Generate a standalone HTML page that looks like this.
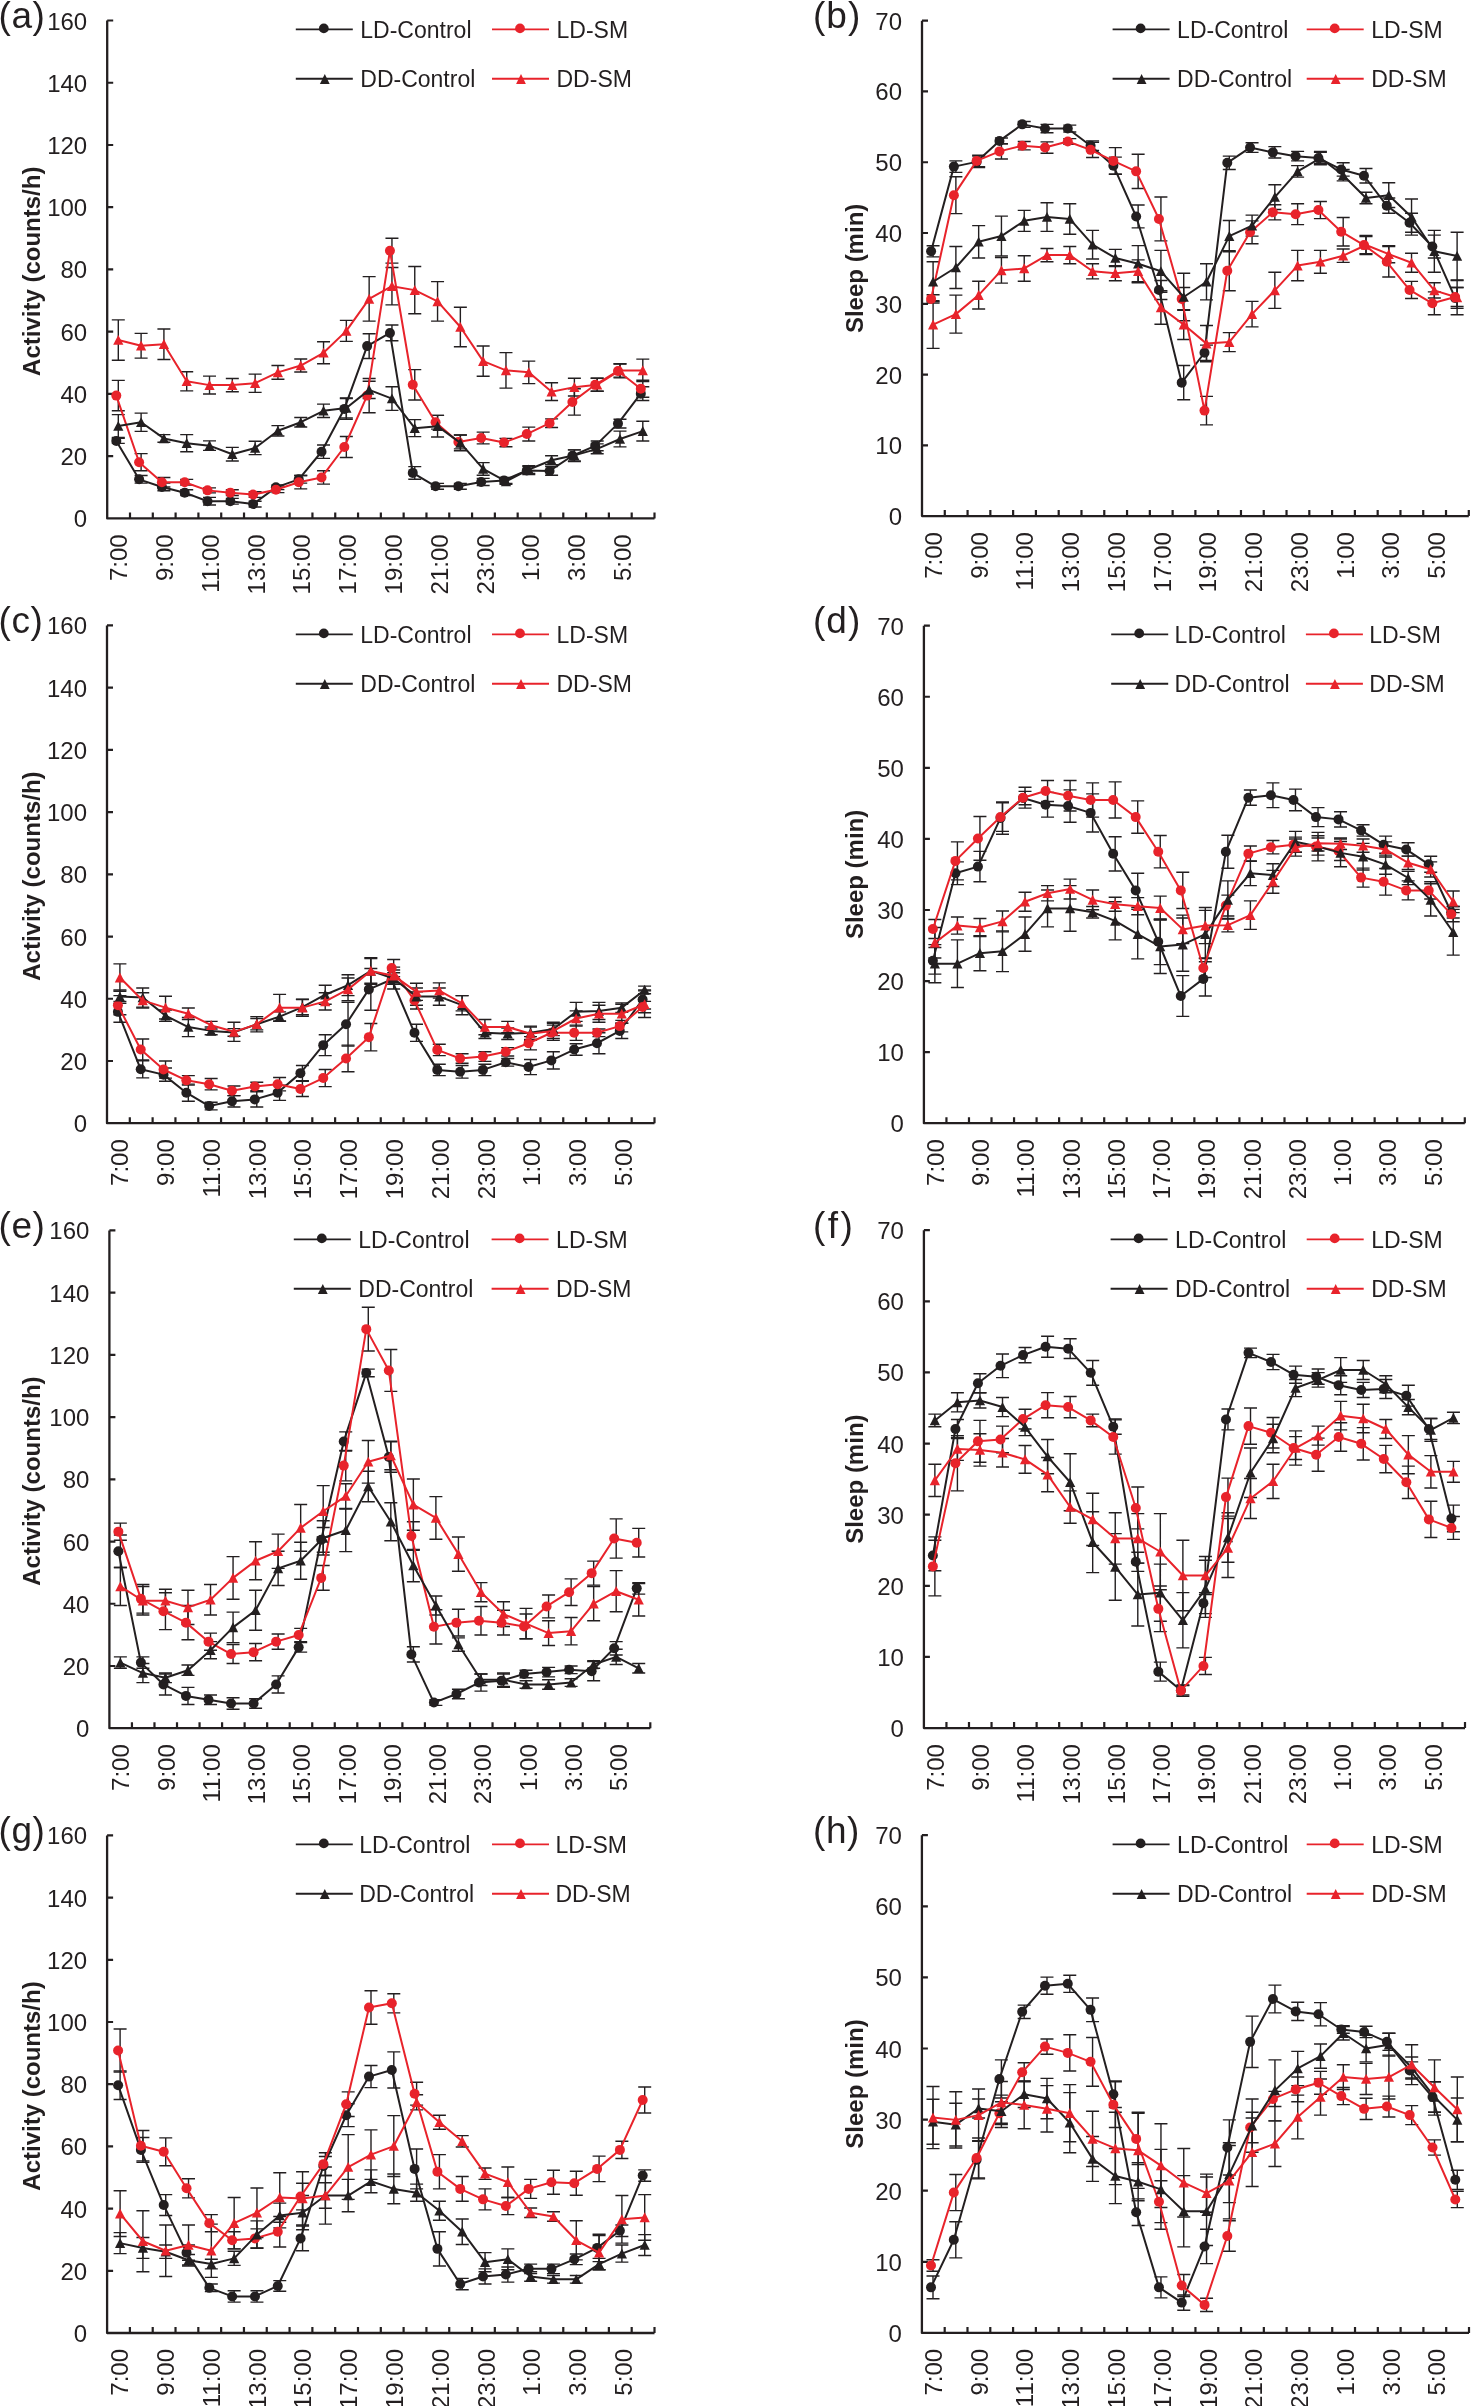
<!DOCTYPE html>
<html><head><meta charset="utf-8"><style>
html,body{margin:0;padding:0;background:#fff;overflow:hidden;}
svg{display:block;will-change:transform;}
text{font-family:"Liberation Sans", sans-serif;fill:#231f20;}
.t{font-size:24px;}
.lg{font-size:23px;}
.pl{font-size:37px;}
.yt{font-size:24px;font-weight:bold;}
.yt2{font-size:24px;font-weight:bold;}
</style></head><body>
<svg width="1471" height="2406" viewBox="0 0 1471 2406">
<rect width="1471" height="2406" fill="#fff"/>
<g id="pa">
<text x="-1.5" y="27.8" class="pl" letter-spacing="0.6">(a)</text>
<text transform="translate(39.5 271.25) rotate(-90)" text-anchor="middle" class="yt">Activity (counts/h)</text>
<path d="M107.2 20.5V518.4H654.5" fill="none" stroke="#231f20" stroke-width="2.3" stroke-linejoin="round"/>
<path d="M107.2 456.16h6M107.2 393.92h6M107.2 331.69h6M107.2 269.45h6M107.2 207.21h6M107.2 144.98h6M107.2 82.74h6M107.2 20.5h6M130 518.4v-6M152.81 518.4v-6M175.61 518.4v-6M198.42 518.4v-6M221.22 518.4v-6M244.02 518.4v-6M266.83 518.4v-6M289.63 518.4v-6M312.44 518.4v-6M335.24 518.4v-6M358.05 518.4v-6M380.85 518.4v-6M403.65 518.4v-6M426.46 518.4v-6M449.26 518.4v-6M472.07 518.4v-6M494.87 518.4v-6M517.67 518.4v-6M540.48 518.4v-6M563.28 518.4v-6M586.09 518.4v-6M608.89 518.4v-6M631.7 518.4v-6M654.5 518.4v-6" stroke="#231f20" stroke-width="2.2" fill="none"/>
<text x="87.2" y="527.4" text-anchor="end" class="t">0</text>
<text x="87.2" y="465.16" text-anchor="end" class="t">20</text>
<text x="87.2" y="402.92" text-anchor="end" class="t">40</text>
<text x="87.2" y="340.69" text-anchor="end" class="t">60</text>
<text x="87.2" y="278.45" text-anchor="end" class="t">80</text>
<text x="87.2" y="216.21" text-anchor="end" class="t">100</text>
<text x="87.2" y="153.98" text-anchor="end" class="t">120</text>
<text x="87.2" y="91.74" text-anchor="end" class="t">140</text>
<text x="87.2" y="29.5" text-anchor="end" class="t">160</text>
<text transform="translate(127.2 534.4) rotate(-90)" text-anchor="end" class="t">7:00</text>
<text transform="translate(172.99 534.4) rotate(-90)" text-anchor="end" class="t">9:00</text>
<text transform="translate(218.78 534.4) rotate(-90)" text-anchor="end" class="t">11:00</text>
<text transform="translate(264.57 534.4) rotate(-90)" text-anchor="end" class="t">13:00</text>
<text transform="translate(310.36 534.4) rotate(-90)" text-anchor="end" class="t">15:00</text>
<text transform="translate(356.14 534.4) rotate(-90)" text-anchor="end" class="t">17:00</text>
<text transform="translate(401.93 534.4) rotate(-90)" text-anchor="end" class="t">19:00</text>
<text transform="translate(447.72 534.4) rotate(-90)" text-anchor="end" class="t">21:00</text>
<text transform="translate(493.51 534.4) rotate(-90)" text-anchor="end" class="t">23:00</text>
<text transform="translate(539.3 534.4) rotate(-90)" text-anchor="end" class="t">1:00</text>
<text transform="translate(585.09 534.4) rotate(-90)" text-anchor="end" class="t">3:00</text>
<text transform="translate(630.87 534.4) rotate(-90)" text-anchor="end" class="t">5:00</text>
<path d="M118.3 438.41V443.36M111.8 438.41h13M111.8 443.36h13M141.11 475.53V483.14M134.61 475.53h13M134.61 483.14h13M163.91 483.14V490.75M157.41 483.14h13M157.41 490.75h13M186.71 489.8V495.51M180.21 489.8h13M180.21 495.51h13M209.52 497.42V505.03M203.02 497.42h13M203.02 505.03h13M232.32 498.37V504.08M225.82 498.37h13M225.82 504.08h13M255.13 501.22V506.93M248.63 501.22h13M248.63 506.93h13M277.93 485.04V489.61M271.43 485.04h13M271.43 489.61h13M300.74 475.53V483.14M294.24 475.53h13M294.24 483.14h13M323.54 445.07V458.4M317.04 445.07h13M317.04 458.4h13M346.34 398.44V419.38M339.84 398.44h13M339.84 419.38h13M369.15 333.73V358.47M362.65 333.73h13M362.65 358.47h13M391.95 325.03V340.8M385.45 325.03h13M385.45 340.8h13M414.76 466.59V479.21M408.26 466.59h13M408.26 479.21h13M437.56 483.35V489.27M431.06 483.35h13M431.06 489.27h13M460.36 483.35V489.27M453.86 483.35h13M453.86 489.27h13M483.17 478.42V485.52M476.67 478.42h13M476.67 485.52h13M505.97 477.44V483.35M499.47 477.44h13M499.47 483.35h13M528.78 466.59V474.48M522.28 466.59h13M522.28 474.48h13M551.58 466.59V475.27M545.08 466.59h13M545.08 475.27h13M574.39 449.83V461.66M567.89 449.83h13M567.89 461.66h13M597.19 440.96V450.82M590.69 440.96h13M590.69 450.82h13M619.99 419.27V427.95M613.49 419.27h13M613.49 427.95h13M642.8 386.74V400.54M636.3 386.74h13M636.3 400.54h13" stroke="#231f20" stroke-width="1.4" fill="none"/>
<path d="M118.3 380.36V410.81M111.8 380.36h13M111.8 410.81h13M141.11 453.64V470.77M134.61 453.64h13M134.61 470.77h13M163.91 477.43V486.95M157.41 477.43h13M157.41 486.95h13M186.71 479.33V485.04M180.21 479.33h13M180.21 485.04h13M209.52 487.9V492.85M203.02 487.9h13M203.02 492.85h13M232.32 489.8V495.51M225.82 489.8h13M225.82 495.51h13M255.13 491.71V497.42M248.63 491.71h13M248.63 497.42h13M277.93 486.95V492.66M271.43 486.95h13M271.43 492.66h13M300.74 475.53V488.85M294.24 475.53h13M294.24 488.85h13M323.54 470.77V484.09M317.04 470.77h13M317.04 484.09h13M346.34 436.51V457.45M339.84 436.51h13M339.84 457.45h13M369.15 378.46V412.72M362.65 378.46h13M362.65 412.72h13M391.95 238.28V263.12M385.45 238.28h13M385.45 263.12h13M414.76 369.59V399.95M408.26 369.59h13M408.26 399.95h13M437.56 415.33V429.13M431.06 415.33h13M431.06 429.13h13M460.36 435.05V448.85M453.86 435.05h13M453.86 448.85h13M483.17 432.09V443.92M476.67 432.09h13M476.67 443.92h13M505.97 438.4V446.68M499.47 438.4h13M499.47 446.68h13M528.78 427.16V440.96M522.28 427.16h13M522.28 440.96h13M551.58 418.88V427.56M545.08 418.88h13M545.08 427.56h13M574.39 388.71V415.13M567.89 388.71h13M567.89 415.13h13M597.19 378.26V391.28M590.69 378.26h13M590.69 391.28h13M619.99 364.07V377.87M613.49 364.07h13M613.49 377.87h13M642.8 380.24V397.19M636.3 380.24h13M636.3 397.19h13" stroke="#231f20" stroke-width="1.4" fill="none"/>
<path d="M118.3 414.62V437.46M111.8 414.62h13M111.8 437.46h13M141.11 413.1V431.37M134.61 413.1h13M134.61 431.37h13M163.91 434.61V442.22M157.41 434.61h13M157.41 442.22h13M186.71 434.61V451.74M180.21 434.61h13M180.21 451.74h13M209.52 440.89V450.4M203.02 440.89h13M203.02 450.4h13M232.32 447.36V461.06M225.82 447.36h13M225.82 461.06h13M255.13 441.27V454.59M248.63 441.27h13M248.63 454.59h13M277.93 425.66V435.94M271.43 425.66h13M271.43 435.94h13M300.74 417.48V426.99M294.24 417.48h13M294.24 426.99h13M323.54 404.15V417.48M317.04 404.15h13M317.04 417.48h13M346.34 397.87V418.05M339.84 397.87h13M339.84 418.05h13M369.15 381.31V398.44M362.65 381.31h13M362.65 398.44h13M391.95 386.74V410.4M385.45 386.74h13M385.45 410.4h13M414.76 419.67V436.62M408.26 419.67h13M408.26 436.62h13M437.56 415.33V437.02M431.06 415.33h13M431.06 437.02h13M460.36 435.05V450.82M453.86 435.05h13M453.86 450.82h13M483.17 462.65V475.27M476.67 462.65h13M476.67 475.27h13M505.97 478.42V484.34M499.47 478.42h13M499.47 484.34h13M528.78 465.61V473.49M522.28 465.61h13M522.28 473.49h13M551.58 455.75V464.82M545.08 455.75h13M545.08 464.82h13M574.39 449.83V460.88M567.89 449.83h13M567.89 460.88h13M597.19 443.92V453.78M590.69 443.92h13M590.69 453.78h13M619.99 431.1V446.88M613.49 431.1h13M613.49 446.88h13M642.8 421.25V440.96M636.3 421.25h13M636.3 440.96h13" stroke="#231f20" stroke-width="1.4" fill="none"/>
<path d="M118.3 319.84V360.19M111.8 319.84h13M111.8 360.19h13M141.11 333.35V358.09M134.61 333.35h13M134.61 358.09h13M163.91 328.97V359.43M157.41 328.97h13M157.41 359.43h13M186.71 371.8V390.83M180.21 371.8h13M180.21 390.83h13M209.52 376.17V394.07M203.02 376.17h13M203.02 394.07h13M232.32 378.46V391.78M225.82 378.46h13M225.82 391.78h13M255.13 374.08V392.35M248.63 374.08h13M248.63 392.35h13M277.93 365.52V379.22M271.43 365.52h13M271.43 379.22h13M300.74 359.04V371.99M294.24 359.04h13M294.24 371.99h13M323.54 341.72V363.8M317.04 341.72h13M317.04 363.8h13M346.34 320.41V341.34M339.84 320.41h13M339.84 341.34h13M369.15 276.63V321.17M362.65 276.63h13M362.65 321.17h13M391.95 267.46V304.92M385.45 267.46h13M385.45 304.92h13M414.76 266.47V313.79M408.26 266.47h13M408.26 313.79h13M437.56 281.66V321.09M431.06 281.66h13M431.06 321.09h13M460.36 307.29V346.72M453.86 307.29h13M453.86 346.72h13M483.17 345.93V376.29M476.67 345.93h13M476.67 376.29h13M505.97 352.63V388.12M499.47 352.63h13M499.47 388.12h13M528.78 361.11V383.59M522.28 361.11h13M522.28 383.59h13M551.58 382.8V400.54M545.08 382.8h13M545.08 400.54h13M574.39 378.26V396.01M567.89 378.26h13M567.89 396.01h13M597.19 378.26V391.28M590.69 378.26h13M590.69 391.28h13M619.99 363.68V377.08M613.49 363.68h13M613.49 377.08h13M642.8 359.14V381.62M636.3 359.14h13M636.3 381.62h13" stroke="#231f20" stroke-width="1.4" fill="none"/>
<path d="M116.3 440.89L139.11 479.33L161.91 486.95L184.71 492.66L207.52 501.22L230.32 501.22L253.13 504.08L275.93 487.33L298.74 479.33L321.54 451.74L344.34 408.91L367.15 346.1L389.95 332.92L412.76 472.9L435.56 486.31L458.36 486.31L481.17 481.97L503.97 480.39L526.78 470.54L549.58 470.93L572.39 455.75L595.19 445.89L617.99 423.61L640.8 393.64" stroke="#231f20" stroke-width="2.0" fill="none" stroke-linejoin="round"/>
<circle cx="116.3" cy="440.89" r="5" fill="#231f20"/>
<circle cx="139.11" cy="479.33" r="5" fill="#231f20"/>
<circle cx="161.91" cy="486.95" r="5" fill="#231f20"/>
<circle cx="184.71" cy="492.66" r="5" fill="#231f20"/>
<circle cx="207.52" cy="501.22" r="5" fill="#231f20"/>
<circle cx="230.32" cy="501.22" r="5" fill="#231f20"/>
<circle cx="253.13" cy="504.08" r="5" fill="#231f20"/>
<circle cx="275.93" cy="487.33" r="5" fill="#231f20"/>
<circle cx="298.74" cy="479.33" r="5" fill="#231f20"/>
<circle cx="321.54" cy="451.74" r="5" fill="#231f20"/>
<circle cx="344.34" cy="408.91" r="5" fill="#231f20"/>
<circle cx="367.15" cy="346.1" r="5" fill="#231f20"/>
<circle cx="389.95" cy="332.92" r="5" fill="#231f20"/>
<circle cx="412.76" cy="472.9" r="5" fill="#231f20"/>
<circle cx="435.56" cy="486.31" r="5" fill="#231f20"/>
<circle cx="458.36" cy="486.31" r="5" fill="#231f20"/>
<circle cx="481.17" cy="481.97" r="5" fill="#231f20"/>
<circle cx="503.97" cy="480.39" r="5" fill="#231f20"/>
<circle cx="526.78" cy="470.54" r="5" fill="#231f20"/>
<circle cx="549.58" cy="470.93" r="5" fill="#231f20"/>
<circle cx="572.39" cy="455.75" r="5" fill="#231f20"/>
<circle cx="595.19" cy="445.89" r="5" fill="#231f20"/>
<circle cx="617.99" cy="423.61" r="5" fill="#231f20"/>
<circle cx="640.8" cy="393.64" r="5" fill="#231f20"/>
<path d="M116.3 395.59L139.11 462.2L161.91 482.19L184.71 482.19L207.52 490.37L230.32 492.66L253.13 494.56L275.93 489.8L298.74 482.19L321.54 477.43L344.34 446.98L367.15 395.59L389.95 250.7L412.76 384.77L435.56 422.23L458.36 441.95L481.17 438L503.97 442.54L526.78 434.06L549.58 423.22L572.39 401.92L595.19 384.77L617.99 370.97L640.8 388.71" stroke="#e8232b" stroke-width="2.0" fill="none" stroke-linejoin="round"/>
<circle cx="116.3" cy="395.59" r="5" fill="#e8232b"/>
<circle cx="139.11" cy="462.2" r="5" fill="#e8232b"/>
<circle cx="161.91" cy="482.19" r="5" fill="#e8232b"/>
<circle cx="184.71" cy="482.19" r="5" fill="#e8232b"/>
<circle cx="207.52" cy="490.37" r="5" fill="#e8232b"/>
<circle cx="230.32" cy="492.66" r="5" fill="#e8232b"/>
<circle cx="253.13" cy="494.56" r="5" fill="#e8232b"/>
<circle cx="275.93" cy="489.8" r="5" fill="#e8232b"/>
<circle cx="298.74" cy="482.19" r="5" fill="#e8232b"/>
<circle cx="321.54" cy="477.43" r="5" fill="#e8232b"/>
<circle cx="344.34" cy="446.98" r="5" fill="#e8232b"/>
<circle cx="367.15" cy="395.59" r="5" fill="#e8232b"/>
<circle cx="389.95" cy="250.7" r="5" fill="#e8232b"/>
<circle cx="412.76" cy="384.77" r="5" fill="#e8232b"/>
<circle cx="435.56" cy="422.23" r="5" fill="#e8232b"/>
<circle cx="458.36" cy="441.95" r="5" fill="#e8232b"/>
<circle cx="481.17" cy="438" r="5" fill="#e8232b"/>
<circle cx="503.97" cy="442.54" r="5" fill="#e8232b"/>
<circle cx="526.78" cy="434.06" r="5" fill="#e8232b"/>
<circle cx="549.58" cy="423.22" r="5" fill="#e8232b"/>
<circle cx="572.39" cy="401.92" r="5" fill="#e8232b"/>
<circle cx="595.19" cy="384.77" r="5" fill="#e8232b"/>
<circle cx="617.99" cy="370.97" r="5" fill="#e8232b"/>
<circle cx="640.8" cy="388.71" r="5" fill="#e8232b"/>
<path d="M118.3 426.04L141.11 422.23L163.91 438.41L186.71 443.17L209.52 445.65L232.32 454.21L255.13 447.93L277.93 430.8L300.74 422.23L323.54 410.81L346.34 407.96L369.15 389.88L391.95 398.57L414.76 428.15L437.56 426.18L460.36 442.93L483.17 468.96L505.97 481.38L528.78 469.55L551.58 460.28L574.39 455.35L597.19 448.85L619.99 438.99L642.8 431.1" stroke="#231f20" stroke-width="2.0" fill="none" stroke-linejoin="round"/>
<path d="M118.3 420.94L123.4 430.84H113.2Z" fill="#231f20"/>
<path d="M141.11 417.13L146.21 427.03H136.01Z" fill="#231f20"/>
<path d="M163.91 433.31L169.01 443.21H158.81Z" fill="#231f20"/>
<path d="M186.71 438.07L191.81 447.97H181.61Z" fill="#231f20"/>
<path d="M209.52 440.55L214.62 450.45H204.42Z" fill="#231f20"/>
<path d="M232.32 449.11L237.42 459.01H227.22Z" fill="#231f20"/>
<path d="M255.13 442.83L260.23 452.73H250.03Z" fill="#231f20"/>
<path d="M277.93 425.7L283.03 435.6H272.83Z" fill="#231f20"/>
<path d="M300.74 417.13L305.84 427.03H295.64Z" fill="#231f20"/>
<path d="M323.54 405.71L328.64 415.61H318.44Z" fill="#231f20"/>
<path d="M346.34 402.86L351.44 412.76H341.24Z" fill="#231f20"/>
<path d="M369.15 384.78L374.25 394.68H364.05Z" fill="#231f20"/>
<path d="M391.95 393.47L397.05 403.37H386.85Z" fill="#231f20"/>
<path d="M414.76 423.05L419.86 432.95H409.66Z" fill="#231f20"/>
<path d="M437.56 421.08L442.66 430.98H432.46Z" fill="#231f20"/>
<path d="M460.36 437.83L465.46 447.73H455.26Z" fill="#231f20"/>
<path d="M483.17 463.86L488.27 473.76H478.07Z" fill="#231f20"/>
<path d="M505.97 476.28L511.07 486.18H500.87Z" fill="#231f20"/>
<path d="M528.78 464.45L533.88 474.35H523.68Z" fill="#231f20"/>
<path d="M551.58 455.18L556.68 465.08H546.48Z" fill="#231f20"/>
<path d="M574.39 450.25L579.49 460.15H569.29Z" fill="#231f20"/>
<path d="M597.19 443.75L602.29 453.65H592.09Z" fill="#231f20"/>
<path d="M619.99 433.89L625.09 443.79H614.89Z" fill="#231f20"/>
<path d="M642.8 426L647.9 435.9H637.7Z" fill="#231f20"/>
<path d="M118.3 340.01L141.11 345.72L163.91 344.2L186.71 381.31L209.52 385.12L232.32 385.12L255.13 383.22L277.93 372.37L300.74 365.52L323.54 352.76L346.34 330.88L369.15 298.9L391.95 286.19L414.76 290.13L437.56 301.37L460.36 327L483.17 361.11L505.97 370.38L528.78 372.35L551.58 391.67L574.39 387.14L597.19 384.77L619.99 370.38L642.8 370.38" stroke="#e8232b" stroke-width="2.0" fill="none" stroke-linejoin="round"/>
<path d="M118.3 334.91L123.4 344.81H113.2Z" fill="#e8232b"/>
<path d="M141.11 340.62L146.21 350.52H136.01Z" fill="#e8232b"/>
<path d="M163.91 339.1L169.01 349H158.81Z" fill="#e8232b"/>
<path d="M186.71 376.21L191.81 386.11H181.61Z" fill="#e8232b"/>
<path d="M209.52 380.02L214.62 389.92H204.42Z" fill="#e8232b"/>
<path d="M232.32 380.02L237.42 389.92H227.22Z" fill="#e8232b"/>
<path d="M255.13 378.12L260.23 388.02H250.03Z" fill="#e8232b"/>
<path d="M277.93 367.27L283.03 377.17H272.83Z" fill="#e8232b"/>
<path d="M300.74 360.42L305.84 370.32H295.64Z" fill="#e8232b"/>
<path d="M323.54 347.66L328.64 357.56H318.44Z" fill="#e8232b"/>
<path d="M346.34 325.78L351.44 335.68H341.24Z" fill="#e8232b"/>
<path d="M369.15 293.8L374.25 303.7H364.05Z" fill="#e8232b"/>
<path d="M391.95 281.09L397.05 290.99H386.85Z" fill="#e8232b"/>
<path d="M414.76 285.03L419.86 294.93H409.66Z" fill="#e8232b"/>
<path d="M437.56 296.27L442.66 306.17H432.46Z" fill="#e8232b"/>
<path d="M460.36 321.9L465.46 331.8H455.26Z" fill="#e8232b"/>
<path d="M483.17 356.01L488.27 365.91H478.07Z" fill="#e8232b"/>
<path d="M505.97 365.28L511.07 375.18H500.87Z" fill="#e8232b"/>
<path d="M528.78 367.25L533.88 377.15H523.68Z" fill="#e8232b"/>
<path d="M551.58 386.57L556.68 396.47H546.48Z" fill="#e8232b"/>
<path d="M574.39 382.04L579.49 391.94H569.29Z" fill="#e8232b"/>
<path d="M597.19 379.67L602.29 389.57H592.09Z" fill="#e8232b"/>
<path d="M619.99 365.28L625.09 375.18H614.89Z" fill="#e8232b"/>
<path d="M642.8 365.28L647.9 375.18H637.7Z" fill="#e8232b"/>
<path d="M295.8 29.4h57" stroke="#231f20" stroke-width="1.9"/>
<circle cx="323.8" cy="28.4" r="4.9" fill="#231f20"/>
<text x="360.3" y="37.6" class="lg">LD-Control</text>
<path d="M295.8 78.7h57" stroke="#231f20" stroke-width="1.9"/>
<path d="M324.8 74.1L329.7 83.9H319.9Z" fill="#231f20"/>
<text x="360.3" y="86.9" class="lg">DD-Control</text>
<path d="M492 29.4h57" stroke="#e8232b" stroke-width="1.9"/>
<circle cx="520" cy="28.4" r="4.9" fill="#e8232b"/>
<text x="556.5" y="37.6" class="lg">LD-SM</text>
<path d="M492 78.7h57" stroke="#e8232b" stroke-width="1.9"/>
<path d="M521 74.1L525.9 83.9H516.1Z" fill="#e8232b"/>
<text x="556.5" y="86.9" class="lg">DD-SM</text>
</g>
<g id="pb">
<text x="813" y="28" class="pl" letter-spacing="1.0">(b)</text>
<text transform="translate(862.8 268.4) rotate(-90)" text-anchor="middle" class="yt2">Sleep (min)</text>
<path d="M922 20.7V516.1H1468.8" fill="none" stroke="#231f20" stroke-width="2.3" stroke-linejoin="round"/>
<path d="M922 445.33h6M922 374.56h6M922 303.79h6M922 233.01h6M922 162.24h6M922 91.47h6M922 20.7h6M944.78 516.1v-6M967.57 516.1v-6M990.35 516.1v-6M1013.13 516.1v-6M1035.92 516.1v-6M1058.7 516.1v-6M1081.48 516.1v-6M1104.27 516.1v-6M1127.05 516.1v-6M1149.83 516.1v-6M1172.62 516.1v-6M1195.4 516.1v-6M1218.18 516.1v-6M1240.97 516.1v-6M1263.75 516.1v-6M1286.53 516.1v-6M1309.32 516.1v-6M1332.1 516.1v-6M1354.88 516.1v-6M1377.67 516.1v-6M1400.45 516.1v-6M1423.23 516.1v-6M1446.02 516.1v-6M1468.8 516.1v-6" stroke="#231f20" stroke-width="2.2" fill="none"/>
<text x="902" y="525.1" text-anchor="end" class="t">0</text>
<text x="902" y="454.33" text-anchor="end" class="t">10</text>
<text x="902" y="383.56" text-anchor="end" class="t">20</text>
<text x="902" y="312.79" text-anchor="end" class="t">30</text>
<text x="902" y="242.01" text-anchor="end" class="t">40</text>
<text x="902" y="171.24" text-anchor="end" class="t">50</text>
<text x="902" y="100.47" text-anchor="end" class="t">60</text>
<text x="902" y="29.7" text-anchor="end" class="t">70</text>
<text transform="translate(941.99 532.1) rotate(-90)" text-anchor="end" class="t">7:00</text>
<text transform="translate(987.74 532.1) rotate(-90)" text-anchor="end" class="t">9:00</text>
<text transform="translate(1033.48 532.1) rotate(-90)" text-anchor="end" class="t">11:00</text>
<text transform="translate(1079.23 532.1) rotate(-90)" text-anchor="end" class="t">13:00</text>
<text transform="translate(1124.98 532.1) rotate(-90)" text-anchor="end" class="t">15:00</text>
<text transform="translate(1170.72 532.1) rotate(-90)" text-anchor="end" class="t">17:00</text>
<text transform="translate(1216.47 532.1) rotate(-90)" text-anchor="end" class="t">19:00</text>
<text transform="translate(1262.22 532.1) rotate(-90)" text-anchor="end" class="t">21:00</text>
<text transform="translate(1307.96 532.1) rotate(-90)" text-anchor="end" class="t">23:00</text>
<text transform="translate(1353.71 532.1) rotate(-90)" text-anchor="end" class="t">1:00</text>
<text transform="translate(1399.46 532.1) rotate(-90)" text-anchor="end" class="t">3:00</text>
<text transform="translate(1445.2 532.1) rotate(-90)" text-anchor="end" class="t">5:00</text>
<path d="M933.09 245.79V256.83M926.59 245.79h13M926.59 256.83h13M955.88 160.91V172.33M949.38 160.91h13M949.38 172.33h13M978.66 156.15V167.57M972.16 156.15h13M972.16 167.57h13M1001.44 138.07V143.78M994.94 138.07h13M994.94 143.78h13M1024.23 121.51V127.22M1017.73 121.51h13M1017.73 127.22h13M1047.01 124.36V132.74M1040.51 124.36h13M1040.51 132.74h13M1069.79 125.12V131.98M1063.29 125.12h13M1063.29 131.98h13M1092.58 140.92V150.44M1086.08 140.92h13M1086.08 150.44h13M1115.36 157.1V174.23M1108.86 157.1h13M1108.86 174.23h13M1138.14 205.06V227.9M1131.64 205.06h13M1131.64 227.9h13M1160.92 280.43V299.47M1154.42 280.43h13M1154.42 299.47h13M1183.71 365.51V399.77M1177.21 365.51h13M1177.21 399.77h13M1206.49 345.15V360.37M1199.99 345.15h13M1199.99 360.37h13M1229.28 156.15V169.47M1222.78 156.15h13M1222.78 169.47h13M1252.06 142.82V152.34M1245.56 142.82h13M1245.56 152.34h13M1274.84 146.63V158.05M1268.34 146.63h13M1268.34 158.05h13M1297.62 151.39V160.91M1291.12 151.39h13M1291.12 160.91h13M1320.41 151.39V164.71M1313.91 151.39h13M1313.91 164.71h13M1343.19 162.81V176.13M1336.69 162.81h13M1336.69 176.13h13M1365.98 168.52V182.98M1359.48 168.52h13M1359.48 182.98h13M1388.76 198.02V213.25M1382.26 198.02h13M1382.26 213.25h13M1411.54 213.25V232.28M1405.04 213.25h13M1405.04 232.28h13M1434.33 235.14V257.97M1427.83 235.14h13M1427.83 257.97h13M1457.11 287.48V308.41M1450.61 287.48h13M1450.61 308.41h13" stroke="#231f20" stroke-width="1.4" fill="none"/>
<path d="M933.09 294.71V303.08M926.59 294.71h13M926.59 303.08h13M955.88 176.7V213.63M949.38 176.7h13M949.38 213.63h13M978.66 155.2V166.62M972.16 155.2h13M972.16 166.62h13M1001.44 143.78V159M994.94 143.78h13M994.94 159h13M1024.23 141.49V149.87M1017.73 141.49h13M1017.73 149.87h13M1047.01 141.87V153.29M1040.51 141.87h13M1040.51 153.29h13M1069.79 138.64V144.35M1063.29 138.64h13M1063.29 144.35h13M1092.58 142.25V157.48M1086.08 142.25h13M1086.08 157.48h13M1115.36 147.58V174.23M1108.86 147.58h13M1108.86 174.23h13M1138.14 154.24V188.5M1131.64 154.24h13M1131.64 188.5h13M1160.92 197.07V240.85M1154.42 197.07h13M1154.42 240.85h13M1183.71 287.48V310.32M1177.21 287.48h13M1177.21 310.32h13M1206.49 396.35V424.9M1199.99 396.35h13M1199.99 424.9h13M1229.28 250.74V290.71M1222.78 250.74h13M1222.78 290.71h13M1252.06 220.86V243.7M1245.56 220.86h13M1245.56 243.7h13M1274.84 204.68V219.91M1268.34 204.68h13M1268.34 219.91h13M1297.62 203.73V224.67M1291.12 203.73h13M1291.12 224.67h13M1320.41 201.45V218.58M1313.91 201.45h13M1313.91 218.58h13M1343.19 217.43V245.98M1336.69 217.43h13M1336.69 245.98h13M1365.98 235.52V254.55M1359.48 235.52h13M1359.48 254.55h13M1388.76 246.56V277.01M1382.26 246.56h13M1382.26 277.01h13M1411.54 281.39V298.52M1405.04 281.39h13M1405.04 298.52h13M1434.33 291.85V314.69M1427.83 291.85h13M1427.83 314.69h13M1457.11 287.48V306.51M1450.61 287.48h13M1450.61 306.51h13" stroke="#231f20" stroke-width="1.4" fill="none"/>
<path d="M933.09 261.78V301.75M926.59 261.78h13M926.59 301.75h13M955.88 246.56V288.43M949.38 246.56h13M949.38 288.43h13M978.66 225.62V257.97M972.16 225.62h13M972.16 257.97h13M1001.44 216.1V256.07M994.94 216.1h13M994.94 256.07h13M1024.23 210.39V231.33M1017.73 210.39h13M1017.73 231.33h13M1047.01 202.78V231.33M1040.51 202.78h13M1040.51 231.33h13M1069.79 203.73V234.18M1063.29 203.73h13M1063.29 234.18h13M1092.58 230.38V258.93M1086.08 230.38h13M1086.08 258.93h13M1115.36 249.41V266.54M1108.86 249.41h13M1108.86 266.54h13M1138.14 245.6V281.77M1131.64 245.6h13M1131.64 281.77h13M1160.92 250.36V292.23M1154.42 250.36h13M1154.42 292.23h13M1183.71 273.2V320.78M1177.21 273.2h13M1177.21 320.78h13M1206.49 263.68V299.85M1199.99 263.68h13M1199.99 299.85h13M1229.28 220.48V251.69M1222.78 220.48h13M1222.78 251.69h13M1252.06 215.15V236.09M1245.56 215.15h13M1245.56 236.09h13M1274.84 184.7V209.44M1268.34 184.7h13M1268.34 209.44h13M1297.62 165.66V177.08M1291.12 165.66h13M1291.12 177.08h13M1320.41 152.34V163.76M1313.91 152.34h13M1313.91 163.76h13M1343.19 169.47V180.89M1336.69 169.47h13M1336.69 180.89h13M1365.98 192.31V203.73M1359.48 192.31h13M1359.48 203.73h13M1388.76 182.79V207.54M1382.26 182.79h13M1382.26 207.54h13M1411.54 198.97V235.14M1405.04 198.97h13M1405.04 235.14h13M1434.33 230.38V272.25M1427.83 230.38h13M1427.83 272.25h13M1457.11 232.28V279.86M1450.61 232.28h13M1450.61 279.86h13" stroke="#231f20" stroke-width="1.4" fill="none"/>
<path d="M933.09 300.8V348.38M926.59 300.8h13M926.59 348.38h13M955.88 295.09V333.16M949.38 295.09h13M949.38 333.16h13M978.66 281.2V308.98M972.16 281.2h13M972.16 308.98h13M1001.44 257.59V283.1M994.94 257.59h13M994.94 283.1h13M1024.23 255.69V281.2M1017.73 255.69h13M1017.73 281.2h13M1047.01 248.46V261.78M1040.51 248.46h13M1040.51 261.78h13M1069.79 246.56V263.68M1063.29 246.56h13M1063.29 263.68h13M1092.58 263.68V278.91M1086.08 263.68h13M1086.08 278.91h13M1115.36 265.59V280.81M1108.86 265.59h13M1108.86 280.81h13M1138.14 259.88V282.72M1131.64 259.88h13M1131.64 282.72h13M1160.92 290.71V324.21M1154.42 290.71h13M1154.42 324.21h13M1183.71 309.74V339.44M1177.21 309.74h13M1177.21 339.44h13M1206.49 325.54V361.71M1199.99 325.54h13M1199.99 361.71h13M1229.28 332.58V351.62M1222.78 332.58h13M1222.78 351.62h13M1252.06 301.37V326.87M1245.56 301.37h13M1245.56 326.87h13M1274.84 272.25V308.41M1268.34 272.25h13M1268.34 308.41h13M1297.62 250.36V280.81M1291.12 250.36h13M1291.12 280.81h13M1320.41 250.36V273.2M1313.91 250.36h13M1313.91 273.2h13M1343.19 249.03V262.35M1336.69 249.03h13M1336.69 262.35h13M1365.98 236.47V253.6M1359.48 236.47h13M1359.48 253.6h13M1388.76 245.6V262.73M1382.26 245.6h13M1382.26 262.73h13M1411.54 253.22V272.25M1405.04 253.22h13M1405.04 272.25h13M1434.33 282.72V297.94M1427.83 282.72h13M1427.83 297.94h13M1457.11 280.43V314.69M1450.61 280.43h13M1450.61 314.69h13" stroke="#231f20" stroke-width="1.4" fill="none"/>
<path d="M931.09 251.31L953.88 166.62L976.66 161.86L999.44 140.92L1022.23 124.36L1045.01 128.55L1067.79 128.55L1090.58 145.68L1113.36 165.66L1136.14 216.48L1158.92 289.95L1181.71 382.64L1204.49 352.76L1227.28 162.81L1250.06 147.58L1272.84 152.34L1295.62 156.15L1318.41 158.05L1341.19 169.47L1363.98 175.75L1386.76 205.63L1409.54 222.76L1432.33 246.56L1455.11 297.94" stroke="#231f20" stroke-width="2.0" fill="none" stroke-linejoin="round"/>
<circle cx="931.09" cy="251.31" r="5" fill="#231f20"/>
<circle cx="953.88" cy="166.62" r="5" fill="#231f20"/>
<circle cx="976.66" cy="161.86" r="5" fill="#231f20"/>
<circle cx="999.44" cy="140.92" r="5" fill="#231f20"/>
<circle cx="1022.23" cy="124.36" r="5" fill="#231f20"/>
<circle cx="1045.01" cy="128.55" r="5" fill="#231f20"/>
<circle cx="1067.79" cy="128.55" r="5" fill="#231f20"/>
<circle cx="1090.58" cy="145.68" r="5" fill="#231f20"/>
<circle cx="1113.36" cy="165.66" r="5" fill="#231f20"/>
<circle cx="1136.14" cy="216.48" r="5" fill="#231f20"/>
<circle cx="1158.92" cy="289.95" r="5" fill="#231f20"/>
<circle cx="1181.71" cy="382.64" r="5" fill="#231f20"/>
<circle cx="1204.49" cy="352.76" r="5" fill="#231f20"/>
<circle cx="1227.28" cy="162.81" r="5" fill="#231f20"/>
<circle cx="1250.06" cy="147.58" r="5" fill="#231f20"/>
<circle cx="1272.84" cy="152.34" r="5" fill="#231f20"/>
<circle cx="1295.62" cy="156.15" r="5" fill="#231f20"/>
<circle cx="1318.41" cy="158.05" r="5" fill="#231f20"/>
<circle cx="1341.19" cy="169.47" r="5" fill="#231f20"/>
<circle cx="1363.98" cy="175.75" r="5" fill="#231f20"/>
<circle cx="1386.76" cy="205.63" r="5" fill="#231f20"/>
<circle cx="1409.54" cy="222.76" r="5" fill="#231f20"/>
<circle cx="1432.33" cy="246.56" r="5" fill="#231f20"/>
<circle cx="1455.11" cy="297.94" r="5" fill="#231f20"/>
<path d="M931.09 298.9L953.88 195.17L976.66 160.91L999.44 151.39L1022.23 145.68L1045.01 147.58L1067.79 141.49L1090.58 149.87L1113.36 160.91L1136.14 171.37L1158.92 218.96L1181.71 298.9L1204.49 410.62L1227.28 270.73L1250.06 232.28L1272.84 212.3L1295.62 214.2L1318.41 210.01L1341.19 231.71L1363.98 245.03L1386.76 261.78L1409.54 289.95L1432.33 303.27L1455.11 296.99" stroke="#e8232b" stroke-width="2.0" fill="none" stroke-linejoin="round"/>
<circle cx="931.09" cy="298.9" r="5" fill="#e8232b"/>
<circle cx="953.88" cy="195.17" r="5" fill="#e8232b"/>
<circle cx="976.66" cy="160.91" r="5" fill="#e8232b"/>
<circle cx="999.44" cy="151.39" r="5" fill="#e8232b"/>
<circle cx="1022.23" cy="145.68" r="5" fill="#e8232b"/>
<circle cx="1045.01" cy="147.58" r="5" fill="#e8232b"/>
<circle cx="1067.79" cy="141.49" r="5" fill="#e8232b"/>
<circle cx="1090.58" cy="149.87" r="5" fill="#e8232b"/>
<circle cx="1113.36" cy="160.91" r="5" fill="#e8232b"/>
<circle cx="1136.14" cy="171.37" r="5" fill="#e8232b"/>
<circle cx="1158.92" cy="218.96" r="5" fill="#e8232b"/>
<circle cx="1181.71" cy="298.9" r="5" fill="#e8232b"/>
<circle cx="1204.49" cy="410.62" r="5" fill="#e8232b"/>
<circle cx="1227.28" cy="270.73" r="5" fill="#e8232b"/>
<circle cx="1250.06" cy="232.28" r="5" fill="#e8232b"/>
<circle cx="1272.84" cy="212.3" r="5" fill="#e8232b"/>
<circle cx="1295.62" cy="214.2" r="5" fill="#e8232b"/>
<circle cx="1318.41" cy="210.01" r="5" fill="#e8232b"/>
<circle cx="1341.19" cy="231.71" r="5" fill="#e8232b"/>
<circle cx="1363.98" cy="245.03" r="5" fill="#e8232b"/>
<circle cx="1386.76" cy="261.78" r="5" fill="#e8232b"/>
<circle cx="1409.54" cy="289.95" r="5" fill="#e8232b"/>
<circle cx="1432.33" cy="303.27" r="5" fill="#e8232b"/>
<circle cx="1455.11" cy="296.99" r="5" fill="#e8232b"/>
<path d="M933.09 281.77L955.88 267.49L978.66 241.8L1001.44 236.09L1024.23 220.86L1047.01 217.05L1069.79 218.96L1092.58 244.65L1115.36 257.97L1138.14 263.68L1160.92 271.3L1183.71 296.99L1206.49 281.77L1229.28 236.09L1252.06 225.62L1274.84 197.07L1297.62 171.37L1320.41 158.05L1343.19 175.18L1365.98 198.02L1388.76 195.17L1411.54 217.05L1434.33 251.31L1457.11 256.07" stroke="#231f20" stroke-width="2.0" fill="none" stroke-linejoin="round"/>
<path d="M933.09 276.67L938.19 286.57H927.99Z" fill="#231f20"/>
<path d="M955.88 262.39L960.98 272.29H950.77Z" fill="#231f20"/>
<path d="M978.66 236.7L983.76 246.6H973.56Z" fill="#231f20"/>
<path d="M1001.44 230.99L1006.54 240.89H996.34Z" fill="#231f20"/>
<path d="M1024.23 215.76L1029.33 225.66H1019.13Z" fill="#231f20"/>
<path d="M1047.01 211.95L1052.11 221.85H1041.91Z" fill="#231f20"/>
<path d="M1069.79 213.86L1074.89 223.76H1064.69Z" fill="#231f20"/>
<path d="M1092.58 239.55L1097.67 249.45H1087.48Z" fill="#231f20"/>
<path d="M1115.36 252.87L1120.46 262.77H1110.26Z" fill="#231f20"/>
<path d="M1138.14 258.58L1143.24 268.48H1133.04Z" fill="#231f20"/>
<path d="M1160.92 266.2L1166.02 276.1H1155.83Z" fill="#231f20"/>
<path d="M1183.71 291.89L1188.81 301.79H1178.61Z" fill="#231f20"/>
<path d="M1206.49 276.67L1211.59 286.57H1201.39Z" fill="#231f20"/>
<path d="M1229.28 230.99L1234.38 240.89H1224.18Z" fill="#231f20"/>
<path d="M1252.06 220.52L1257.16 230.42H1246.96Z" fill="#231f20"/>
<path d="M1274.84 191.97L1279.94 201.87H1269.74Z" fill="#231f20"/>
<path d="M1297.62 166.27L1302.72 176.17H1292.53Z" fill="#231f20"/>
<path d="M1320.41 152.95L1325.51 162.85H1315.31Z" fill="#231f20"/>
<path d="M1343.19 170.08L1348.29 179.98H1338.09Z" fill="#231f20"/>
<path d="M1365.98 192.92L1371.08 202.82H1360.88Z" fill="#231f20"/>
<path d="M1388.76 190.07L1393.86 199.97H1383.66Z" fill="#231f20"/>
<path d="M1411.54 211.95L1416.64 221.85H1406.44Z" fill="#231f20"/>
<path d="M1434.33 246.21L1439.42 256.11H1429.23Z" fill="#231f20"/>
<path d="M1457.11 250.97L1462.21 260.87H1452.01Z" fill="#231f20"/>
<path d="M933.09 324.59L955.88 314.12L978.66 295.09L1001.44 270.35L1024.23 268.44L1047.01 255.12L1069.79 255.12L1092.58 271.3L1115.36 273.2L1138.14 271.3L1160.92 307.46L1183.71 324.59L1206.49 343.62L1229.28 342.1L1252.06 314.12L1274.84 290.33L1297.62 265.59L1320.41 261.78L1343.19 255.69L1365.98 245.03L1388.76 254.17L1411.54 262.73L1434.33 290.33L1457.11 297.56" stroke="#e8232b" stroke-width="2.0" fill="none" stroke-linejoin="round"/>
<path d="M933.09 319.49L938.19 329.39H927.99Z" fill="#e8232b"/>
<path d="M955.88 309.02L960.98 318.92H950.77Z" fill="#e8232b"/>
<path d="M978.66 289.99L983.76 299.89H973.56Z" fill="#e8232b"/>
<path d="M1001.44 265.25L1006.54 275.15H996.34Z" fill="#e8232b"/>
<path d="M1024.23 263.34L1029.33 273.24H1019.13Z" fill="#e8232b"/>
<path d="M1047.01 250.02L1052.11 259.92H1041.91Z" fill="#e8232b"/>
<path d="M1069.79 250.02L1074.89 259.92H1064.69Z" fill="#e8232b"/>
<path d="M1092.58 266.2L1097.67 276.1H1087.48Z" fill="#e8232b"/>
<path d="M1115.36 268.1L1120.46 278H1110.26Z" fill="#e8232b"/>
<path d="M1138.14 266.2L1143.24 276.1H1133.04Z" fill="#e8232b"/>
<path d="M1160.92 302.36L1166.02 312.26H1155.83Z" fill="#e8232b"/>
<path d="M1183.71 319.49L1188.81 329.39H1178.61Z" fill="#e8232b"/>
<path d="M1206.49 338.52L1211.59 348.42H1201.39Z" fill="#e8232b"/>
<path d="M1229.28 337L1234.38 346.9H1224.18Z" fill="#e8232b"/>
<path d="M1252.06 309.02L1257.16 318.92H1246.96Z" fill="#e8232b"/>
<path d="M1274.84 285.23L1279.94 295.13H1269.74Z" fill="#e8232b"/>
<path d="M1297.62 260.49L1302.72 270.39H1292.53Z" fill="#e8232b"/>
<path d="M1320.41 256.68L1325.51 266.58H1315.31Z" fill="#e8232b"/>
<path d="M1343.19 250.59L1348.29 260.49H1338.09Z" fill="#e8232b"/>
<path d="M1365.98 239.93L1371.08 249.83H1360.88Z" fill="#e8232b"/>
<path d="M1388.76 249.07L1393.86 258.97H1383.66Z" fill="#e8232b"/>
<path d="M1411.54 257.63L1416.64 267.53H1406.44Z" fill="#e8232b"/>
<path d="M1434.33 285.23L1439.42 295.13H1429.23Z" fill="#e8232b"/>
<path d="M1457.11 292.46L1462.21 302.36H1452.01Z" fill="#e8232b"/>
<path d="M1112.6 29.4h57" stroke="#231f20" stroke-width="1.9"/>
<circle cx="1140.6" cy="28.4" r="4.9" fill="#231f20"/>
<text x="1177.1" y="37.6" class="lg">LD-Control</text>
<path d="M1112.6 78.7h57" stroke="#231f20" stroke-width="1.9"/>
<path d="M1141.6 74.1L1146.5 83.9H1136.7Z" fill="#231f20"/>
<text x="1177.1" y="86.9" class="lg">DD-Control</text>
<path d="M1306.7 29.4h57" stroke="#e8232b" stroke-width="1.9"/>
<circle cx="1334.7" cy="28.4" r="4.9" fill="#e8232b"/>
<text x="1371.2" y="37.6" class="lg">LD-SM</text>
<path d="M1306.7 78.7h57" stroke="#e8232b" stroke-width="1.9"/>
<path d="M1335.7 74.1L1340.6 83.9H1330.8Z" fill="#e8232b"/>
<text x="1371.2" y="86.9" class="lg">DD-SM</text>
</g>
<g id="pc">
<text x="-1.5" y="632.7" class="pl" letter-spacing="0.6">(c)</text>
<text transform="translate(39.5 876.1) rotate(-90)" text-anchor="middle" class="yt">Activity (counts/h)</text>
<path d="M107 625.4V1123.2H654.5" fill="none" stroke="#231f20" stroke-width="2.3" stroke-linejoin="round"/>
<path d="M107 1060.98h6M107 998.75h6M107 936.53h6M107 874.3h6M107 812.08h6M107 749.85h6M107 687.62h6M107 625.4h6M129.81 1123.2v-6M152.62 1123.2v-6M175.44 1123.2v-6M198.25 1123.2v-6M221.06 1123.2v-6M243.88 1123.2v-6M266.69 1123.2v-6M289.5 1123.2v-6M312.31 1123.2v-6M335.12 1123.2v-6M357.94 1123.2v-6M380.75 1123.2v-6M403.56 1123.2v-6M426.38 1123.2v-6M449.19 1123.2v-6M472 1123.2v-6M494.81 1123.2v-6M517.62 1123.2v-6M540.44 1123.2v-6M563.25 1123.2v-6M586.06 1123.2v-6M608.88 1123.2v-6M631.69 1123.2v-6M654.5 1123.2v-6" stroke="#231f20" stroke-width="2.2" fill="none"/>
<text x="87" y="1132.2" text-anchor="end" class="t">0</text>
<text x="87" y="1069.98" text-anchor="end" class="t">20</text>
<text x="87" y="1007.75" text-anchor="end" class="t">40</text>
<text x="87" y="945.53" text-anchor="end" class="t">60</text>
<text x="87" y="883.3" text-anchor="end" class="t">80</text>
<text x="87" y="821.08" text-anchor="end" class="t">100</text>
<text x="87" y="758.85" text-anchor="end" class="t">120</text>
<text x="87" y="696.62" text-anchor="end" class="t">140</text>
<text x="87" y="634.4" text-anchor="end" class="t">160</text>
<text transform="translate(128.21 1139.2) rotate(-90)" text-anchor="end" class="t">7:00</text>
<text transform="translate(174.01 1139.2) rotate(-90)" text-anchor="end" class="t">9:00</text>
<text transform="translate(219.82 1139.2) rotate(-90)" text-anchor="end" class="t">11:00</text>
<text transform="translate(265.62 1139.2) rotate(-90)" text-anchor="end" class="t">13:00</text>
<text transform="translate(311.43 1139.2) rotate(-90)" text-anchor="end" class="t">15:00</text>
<text transform="translate(357.23 1139.2) rotate(-90)" text-anchor="end" class="t">17:00</text>
<text transform="translate(403.04 1139.2) rotate(-90)" text-anchor="end" class="t">19:00</text>
<text transform="translate(448.84 1139.2) rotate(-90)" text-anchor="end" class="t">21:00</text>
<text transform="translate(494.65 1139.2) rotate(-90)" text-anchor="end" class="t">23:00</text>
<text transform="translate(540.45 1139.2) rotate(-90)" text-anchor="end" class="t">1:00</text>
<text transform="translate(586.26 1139.2) rotate(-90)" text-anchor="end" class="t">3:00</text>
<text transform="translate(632.06 1139.2) rotate(-90)" text-anchor="end" class="t">5:00</text>
<path d="M119.91 1001.37V1022.31M113.41 1001.37h13M113.41 1022.31h13M142.72 1060.76V1077.89M136.22 1060.76h13M136.22 1077.89h13M165.53 1067.99V1081.31M159.03 1067.99h13M159.03 1081.31h13M188.34 1084.17V1101.3M181.84 1084.17h13M181.84 1101.3h13M211.16 1102.25V1109.86M204.66 1102.25h13M204.66 1109.86h13M233.97 1095.59V1107.01M227.47 1095.59h13M227.47 1107.01h13M256.78 1091.78V1107.01M250.28 1091.78h13M250.28 1107.01h13M279.59 1085.12V1100.35M273.09 1085.12h13M273.09 1100.35h13M302.41 1065.52V1080.74M295.91 1065.52h13M295.91 1080.74h13M325.22 1034.68V1055.62M318.72 1034.68h13M318.72 1055.62h13M348.03 1002.33V1046.1M341.53 1002.33h13M341.53 1046.1h13M370.84 968.45V1010.32M364.34 968.45h13M364.34 1010.32h13M393.66 969.97V989M387.16 969.97h13M387.16 989h13M416.47 1024.21V1041.34M409.97 1024.21h13M409.97 1041.34h13M439.28 1064.18V1075.6M432.78 1064.18h13M432.78 1075.6h13M462.09 1065.52V1078.08M455.59 1065.52h13M455.59 1078.08h13M484.91 1064.18V1075.6M478.41 1064.18h13M478.41 1075.6h13M507.72 1058.47V1066.09M501.22 1058.47h13M501.22 1066.09h13M530.53 1059.43V1074.65M524.03 1059.43h13M524.03 1074.65h13M553.34 1051.81V1068.94M546.84 1051.81h13M546.84 1068.94h13M576.16 1043.82V1055.24M569.66 1043.82h13M569.66 1055.24h13M598.97 1032.78V1053.72M592.47 1032.78h13M592.47 1053.72h13M621.78 1023.26V1038.49M615.28 1023.26h13M615.28 1038.49h13M644.59 989.95V1008.99M638.09 989.95h13M638.09 1008.99h13" stroke="#231f20" stroke-width="1.4" fill="none"/>
<path d="M119.91 995.66V1014.7M113.41 995.66h13M113.41 1014.7h13M142.72 1039.06V1060M136.22 1039.06h13M136.22 1060h13M165.53 1060.95V1078.08M159.03 1060.95h13M159.03 1078.08h13M188.34 1075.6V1085.12M181.84 1075.6h13M181.84 1085.12h13M211.16 1078.46V1089.88M204.66 1078.46h13M204.66 1089.88h13M233.97 1086.07V1095.59M227.47 1086.07h13M227.47 1095.59h13M256.78 1082.26V1090.64M250.28 1082.26h13M250.28 1090.64h13M279.59 1077.51V1090.83M273.09 1077.51h13M273.09 1090.83h13M302.41 1081.31V1096.54M295.91 1081.31h13M295.91 1096.54h13M325.22 1069.51V1086.64M318.72 1069.51h13M318.72 1086.64h13M348.03 1045.15V1071.8M341.53 1045.15h13M341.53 1071.8h13M370.84 1023.45V1050.86M364.34 1023.45h13M364.34 1050.86h13M393.66 959.5V976.63M387.16 959.5h13M387.16 976.63h13M416.47 991.86V1008.99M409.97 991.86h13M409.97 1008.99h13M439.28 1044.2V1055.62M432.78 1044.2h13M432.78 1055.62h13M462.09 1053.72V1063.23M455.59 1053.72h13M455.59 1063.23h13M484.91 1051.81V1061.33M478.41 1051.81h13M478.41 1061.33h13M507.72 1047.62V1056M501.22 1047.62h13M501.22 1056h13M530.53 1036.59V1049.91M524.03 1036.59h13M524.03 1049.91h13M553.34 1025.17V1040.39M546.84 1025.17h13M546.84 1040.39h13M576.16 1025.17V1040.39M569.66 1025.17h13M569.66 1040.39h13M598.97 1028.97V1036.59M592.47 1028.97h13M592.47 1036.59h13M621.78 1020.41V1031.83M615.28 1020.41h13M615.28 1031.83h13M644.59 1001.37V1012.79M638.09 1001.37h13M638.09 1012.79h13" stroke="#231f20" stroke-width="1.4" fill="none"/>
<path d="M119.91 989.95V1003.28M113.41 989.95h13M113.41 1003.28h13M142.72 988.05V1007.08M136.22 988.05h13M136.22 1007.08h13M165.53 1009.94V1021.36M159.03 1009.94h13M159.03 1021.36h13M188.34 1017.55V1036.59M181.84 1017.55h13M181.84 1036.59h13M211.16 1027.07V1034.68M204.66 1027.07h13M204.66 1034.68h13M233.97 1028.59V1036.2M227.47 1028.59h13M227.47 1036.2h13M256.78 1018.5V1029.92M250.28 1018.5h13M250.28 1029.92h13M279.59 1011.84V1021.36M273.09 1011.84h13M273.09 1021.36h13M302.41 999.47V1014.7M295.91 999.47h13M295.91 1014.7h13M325.22 985.2V1004.23M318.72 985.2h13M318.72 1004.23h13M348.03 974.73V995.66M341.53 974.73h13M341.53 995.66h13M370.84 957.6V984.24M364.34 957.6h13M364.34 984.24h13M393.66 972.82V984.24M387.16 972.82h13M387.16 984.24h13M416.47 988.05V1005.18M409.97 988.05h13M409.97 1005.18h13M439.28 988.05V1005.18M432.78 988.05h13M432.78 1005.18h13M462.09 995.66V1014.7M455.59 995.66h13M455.59 1014.7h13M484.91 1027.07V1038.49M478.41 1027.07h13M478.41 1038.49h13M507.72 1028.02V1039.44M501.22 1028.02h13M501.22 1039.44h13M530.53 1026.12V1039.44M524.03 1026.12h13M524.03 1039.44h13M553.34 1022.31V1035.63M546.84 1022.31h13M546.84 1035.63h13M576.16 1002.33V1021.36M569.66 1002.33h13M569.66 1021.36h13M598.97 1002.33V1019.46M592.47 1002.33h13M592.47 1019.46h13M621.78 1002.9V1012.41M615.28 1002.9h13M615.28 1012.41h13M644.59 986.15V993.76M638.09 986.15h13M638.09 993.76h13" stroke="#231f20" stroke-width="1.4" fill="none"/>
<path d="M119.91 963.88V991.29M113.41 963.88h13M113.41 991.29h13M142.72 992.81V1008.04M136.22 992.81h13M136.22 1008.04h13M165.53 996.24V1019.07M159.03 996.24h13M159.03 1019.07h13M188.34 1008.04V1019.46M181.84 1008.04h13M181.84 1019.46h13M211.16 1021.36V1028.97M204.66 1021.36h13M204.66 1028.97h13M233.97 1022.31V1041.34M227.47 1022.31h13M227.47 1041.34h13M256.78 1016.6V1031.83M250.28 1016.6h13M250.28 1031.83h13M279.59 994.33V1020.98M273.09 994.33h13M273.09 1020.98h13M302.41 999.09V1016.22M295.91 999.09h13M295.91 1016.22h13M325.22 992.81V1009.94M318.72 992.81h13M318.72 1009.94h13M348.03 977.96V1000.8M341.53 977.96h13M341.53 1000.8h13M370.84 958.55V983.29M364.34 958.55h13M364.34 983.29h13M393.66 967.11V984.24M387.16 967.11h13M387.16 984.24h13M416.47 983.29V1000.42M409.97 983.29h13M409.97 1000.42h13M439.28 982.91V998.14M432.78 982.91h13M432.78 998.14h13M462.09 995.66V1010.89M455.59 995.66h13M455.59 1010.89h13M484.91 1019.46V1034.68M478.41 1019.46h13M478.41 1034.68h13M507.72 1021.36V1032.78M501.22 1021.36h13M501.22 1032.78h13M530.53 1027.07V1040.39M524.03 1027.07h13M524.03 1040.39h13M553.34 1023.26V1038.49M546.84 1023.26h13M546.84 1038.49h13M576.16 1010.89V1026.12M569.66 1010.89h13M569.66 1026.12h13M598.97 1005.18V1022.31M592.47 1005.18h13M592.47 1022.31h13M621.78 1004.23V1023.26M615.28 1004.23h13M615.28 1023.26h13M644.59 990.91V1017.55M638.09 990.91h13M638.09 1017.55h13" stroke="#231f20" stroke-width="1.4" fill="none"/>
<path d="M117.91 1011.84L140.72 1069.32L163.53 1074.65L186.34 1092.73L209.16 1106.06L231.97 1101.3L254.78 1099.39L277.59 1092.73L300.41 1073.13L323.22 1045.15L346.03 1024.21L368.84 989.38L391.66 979.49L414.47 1032.78L437.28 1069.89L460.09 1071.8L482.91 1069.89L505.72 1062.28L528.53 1067.04L551.34 1060.38L574.16 1049.53L596.97 1043.25L619.78 1030.88L642.59 999.47" stroke="#231f20" stroke-width="2.0" fill="none" stroke-linejoin="round"/>
<circle cx="117.91" cy="1011.84" r="5" fill="#231f20"/>
<circle cx="140.72" cy="1069.32" r="5" fill="#231f20"/>
<circle cx="163.53" cy="1074.65" r="5" fill="#231f20"/>
<circle cx="186.34" cy="1092.73" r="5" fill="#231f20"/>
<circle cx="209.16" cy="1106.06" r="5" fill="#231f20"/>
<circle cx="231.97" cy="1101.3" r="5" fill="#231f20"/>
<circle cx="254.78" cy="1099.39" r="5" fill="#231f20"/>
<circle cx="277.59" cy="1092.73" r="5" fill="#231f20"/>
<circle cx="300.41" cy="1073.13" r="5" fill="#231f20"/>
<circle cx="323.22" cy="1045.15" r="5" fill="#231f20"/>
<circle cx="346.03" cy="1024.21" r="5" fill="#231f20"/>
<circle cx="368.84" cy="989.38" r="5" fill="#231f20"/>
<circle cx="391.66" cy="979.49" r="5" fill="#231f20"/>
<circle cx="414.47" cy="1032.78" r="5" fill="#231f20"/>
<circle cx="437.28" cy="1069.89" r="5" fill="#231f20"/>
<circle cx="460.09" cy="1071.8" r="5" fill="#231f20"/>
<circle cx="482.91" cy="1069.89" r="5" fill="#231f20"/>
<circle cx="505.72" cy="1062.28" r="5" fill="#231f20"/>
<circle cx="528.53" cy="1067.04" r="5" fill="#231f20"/>
<circle cx="551.34" cy="1060.38" r="5" fill="#231f20"/>
<circle cx="574.16" cy="1049.53" r="5" fill="#231f20"/>
<circle cx="596.97" cy="1043.25" r="5" fill="#231f20"/>
<circle cx="619.78" cy="1030.88" r="5" fill="#231f20"/>
<circle cx="642.59" cy="999.47" r="5" fill="#231f20"/>
<path d="M117.91 1005.18L140.72 1049.53L163.53 1069.51L186.34 1080.36L209.16 1084.17L231.97 1090.83L254.78 1086.45L277.59 1084.17L300.41 1088.93L323.22 1078.08L346.03 1058.47L368.84 1037.16L391.66 968.07L414.47 1000.42L437.28 1049.91L460.09 1058.47L482.91 1056.57L505.72 1051.81L528.53 1043.25L551.34 1032.78L574.16 1032.78L596.97 1032.78L619.78 1026.12L642.59 1007.08" stroke="#e8232b" stroke-width="2.0" fill="none" stroke-linejoin="round"/>
<circle cx="117.91" cy="1005.18" r="5" fill="#e8232b"/>
<circle cx="140.72" cy="1049.53" r="5" fill="#e8232b"/>
<circle cx="163.53" cy="1069.51" r="5" fill="#e8232b"/>
<circle cx="186.34" cy="1080.36" r="5" fill="#e8232b"/>
<circle cx="209.16" cy="1084.17" r="5" fill="#e8232b"/>
<circle cx="231.97" cy="1090.83" r="5" fill="#e8232b"/>
<circle cx="254.78" cy="1086.45" r="5" fill="#e8232b"/>
<circle cx="277.59" cy="1084.17" r="5" fill="#e8232b"/>
<circle cx="300.41" cy="1088.93" r="5" fill="#e8232b"/>
<circle cx="323.22" cy="1078.08" r="5" fill="#e8232b"/>
<circle cx="346.03" cy="1058.47" r="5" fill="#e8232b"/>
<circle cx="368.84" cy="1037.16" r="5" fill="#e8232b"/>
<circle cx="391.66" cy="968.07" r="5" fill="#e8232b"/>
<circle cx="414.47" cy="1000.42" r="5" fill="#e8232b"/>
<circle cx="437.28" cy="1049.91" r="5" fill="#e8232b"/>
<circle cx="460.09" cy="1058.47" r="5" fill="#e8232b"/>
<circle cx="482.91" cy="1056.57" r="5" fill="#e8232b"/>
<circle cx="505.72" cy="1051.81" r="5" fill="#e8232b"/>
<circle cx="528.53" cy="1043.25" r="5" fill="#e8232b"/>
<circle cx="551.34" cy="1032.78" r="5" fill="#e8232b"/>
<circle cx="574.16" cy="1032.78" r="5" fill="#e8232b"/>
<circle cx="596.97" cy="1032.78" r="5" fill="#e8232b"/>
<circle cx="619.78" cy="1026.12" r="5" fill="#e8232b"/>
<circle cx="642.59" cy="1007.08" r="5" fill="#e8232b"/>
<path d="M119.91 996.62L142.72 997.57L165.53 1015.65L188.34 1027.07L211.16 1030.88L233.97 1032.4L256.78 1024.21L279.59 1016.6L302.41 1007.08L325.22 994.71L348.03 985.2L370.84 970.92L393.66 978.53L416.47 996.62L439.28 996.62L462.09 1005.18L484.91 1032.78L507.72 1033.73L530.53 1032.78L553.34 1028.97L576.16 1011.84L598.97 1010.89L621.78 1007.66L644.59 989.95" stroke="#231f20" stroke-width="2.0" fill="none" stroke-linejoin="round"/>
<path d="M119.91 991.52L125.01 1001.42H114.81Z" fill="#231f20"/>
<path d="M142.72 992.47L147.82 1002.37H137.62Z" fill="#231f20"/>
<path d="M165.53 1010.55L170.63 1020.45H160.43Z" fill="#231f20"/>
<path d="M188.34 1021.97L193.44 1031.87H183.24Z" fill="#231f20"/>
<path d="M211.16 1025.78L216.26 1035.68H206.06Z" fill="#231f20"/>
<path d="M233.97 1027.3L239.07 1037.2H228.87Z" fill="#231f20"/>
<path d="M256.78 1019.11L261.88 1029.01H251.68Z" fill="#231f20"/>
<path d="M279.59 1011.5L284.69 1021.4H274.49Z" fill="#231f20"/>
<path d="M302.41 1001.98L307.51 1011.88H297.31Z" fill="#231f20"/>
<path d="M325.22 989.61L330.32 999.51H320.12Z" fill="#231f20"/>
<path d="M348.03 980.1L353.13 990H342.93Z" fill="#231f20"/>
<path d="M370.84 965.82L375.94 975.72H365.74Z" fill="#231f20"/>
<path d="M393.66 973.43L398.76 983.33H388.56Z" fill="#231f20"/>
<path d="M416.47 991.52L421.57 1001.42H411.37Z" fill="#231f20"/>
<path d="M439.28 991.52L444.38 1001.42H434.18Z" fill="#231f20"/>
<path d="M462.09 1000.08L467.19 1009.98H456.99Z" fill="#231f20"/>
<path d="M484.91 1027.68L490.01 1037.58H479.81Z" fill="#231f20"/>
<path d="M507.72 1028.63L512.82 1038.53H502.62Z" fill="#231f20"/>
<path d="M530.53 1027.68L535.63 1037.58H525.43Z" fill="#231f20"/>
<path d="M553.34 1023.87L558.44 1033.77H548.24Z" fill="#231f20"/>
<path d="M576.16 1006.74L581.26 1016.64H571.06Z" fill="#231f20"/>
<path d="M598.97 1005.79L604.07 1015.69H593.87Z" fill="#231f20"/>
<path d="M621.78 1002.56L626.88 1012.46H616.68Z" fill="#231f20"/>
<path d="M644.59 984.85L649.69 994.75H639.49Z" fill="#231f20"/>
<path d="M119.91 977.58L142.72 1000.42L165.53 1007.66L188.34 1013.75L211.16 1025.17L233.97 1031.83L256.78 1024.21L279.59 1007.66L302.41 1007.66L325.22 1001.37L348.03 989.38L370.84 970.92L393.66 975.68L416.47 991.86L439.28 990.53L462.09 1003.28L484.91 1027.07L507.72 1027.07L530.53 1033.73L553.34 1030.88L576.16 1018.5L598.97 1013.75L621.78 1013.75L644.59 1004.23" stroke="#e8232b" stroke-width="2.0" fill="none" stroke-linejoin="round"/>
<path d="M119.91 972.48L125.01 982.38H114.81Z" fill="#e8232b"/>
<path d="M142.72 995.32L147.82 1005.22H137.62Z" fill="#e8232b"/>
<path d="M165.53 1002.56L170.63 1012.46H160.43Z" fill="#e8232b"/>
<path d="M188.34 1008.65L193.44 1018.55H183.24Z" fill="#e8232b"/>
<path d="M211.16 1020.07L216.26 1029.97H206.06Z" fill="#e8232b"/>
<path d="M233.97 1026.73L239.07 1036.63H228.87Z" fill="#e8232b"/>
<path d="M256.78 1019.11L261.88 1029.01H251.68Z" fill="#e8232b"/>
<path d="M279.59 1002.56L284.69 1012.46H274.49Z" fill="#e8232b"/>
<path d="M302.41 1002.56L307.51 1012.46H297.31Z" fill="#e8232b"/>
<path d="M325.22 996.27L330.32 1006.17H320.12Z" fill="#e8232b"/>
<path d="M348.03 984.28L353.13 994.18H342.93Z" fill="#e8232b"/>
<path d="M370.84 965.82L375.94 975.72H365.74Z" fill="#e8232b"/>
<path d="M393.66 970.58L398.76 980.48H388.56Z" fill="#e8232b"/>
<path d="M416.47 986.76L421.57 996.66H411.37Z" fill="#e8232b"/>
<path d="M439.28 985.43L444.38 995.33H434.18Z" fill="#e8232b"/>
<path d="M462.09 998.18L467.19 1008.08H456.99Z" fill="#e8232b"/>
<path d="M484.91 1021.97L490.01 1031.87H479.81Z" fill="#e8232b"/>
<path d="M507.72 1021.97L512.82 1031.87H502.62Z" fill="#e8232b"/>
<path d="M530.53 1028.63L535.63 1038.53H525.43Z" fill="#e8232b"/>
<path d="M553.34 1025.78L558.44 1035.68H548.24Z" fill="#e8232b"/>
<path d="M576.16 1013.4L581.26 1023.3H571.06Z" fill="#e8232b"/>
<path d="M598.97 1008.65L604.07 1018.55H593.87Z" fill="#e8232b"/>
<path d="M621.78 1008.65L626.88 1018.55H616.68Z" fill="#e8232b"/>
<path d="M644.59 999.13L649.69 1009.03H639.49Z" fill="#e8232b"/>
<path d="M295.8 634.4h57" stroke="#231f20" stroke-width="1.9"/>
<circle cx="323.8" cy="633.4" r="4.9" fill="#231f20"/>
<text x="360.3" y="642.6" class="lg">LD-Control</text>
<path d="M295.8 683.7h57" stroke="#231f20" stroke-width="1.9"/>
<path d="M324.8 679.1L329.7 688.9H319.9Z" fill="#231f20"/>
<text x="360.3" y="691.9" class="lg">DD-Control</text>
<path d="M492 634.4h57" stroke="#e8232b" stroke-width="1.9"/>
<circle cx="520" cy="633.4" r="4.9" fill="#e8232b"/>
<text x="556.5" y="642.6" class="lg">LD-SM</text>
<path d="M492 683.7h57" stroke="#e8232b" stroke-width="1.9"/>
<path d="M521 679.1L525.9 688.9H516.1Z" fill="#e8232b"/>
<text x="556.5" y="691.9" class="lg">DD-SM</text>
</g>
<g id="pd">
<text x="813" y="633" class="pl" letter-spacing="1.0">(d)</text>
<text transform="translate(862.8 874.45) rotate(-90)" text-anchor="middle" class="yt2">Sleep (min)</text>
<path d="M923.9 625.7V1123.2H1464.8" fill="none" stroke="#231f20" stroke-width="2.3" stroke-linejoin="round"/>
<path d="M923.9 1052.13h6M923.9 981.06h6M923.9 909.99h6M923.9 838.91h6M923.9 767.84h6M923.9 696.77h6M923.9 625.7h6M946.44 1123.2v-6M968.98 1123.2v-6M991.51 1123.2v-6M1014.05 1123.2v-6M1036.59 1123.2v-6M1059.12 1123.2v-6M1081.66 1123.2v-6M1104.2 1123.2v-6M1126.74 1123.2v-6M1149.27 1123.2v-6M1171.81 1123.2v-6M1194.35 1123.2v-6M1216.89 1123.2v-6M1239.42 1123.2v-6M1261.96 1123.2v-6M1284.5 1123.2v-6M1307.04 1123.2v-6M1329.57 1123.2v-6M1352.11 1123.2v-6M1374.65 1123.2v-6M1397.19 1123.2v-6M1419.72 1123.2v-6M1442.26 1123.2v-6M1464.8 1123.2v-6" stroke="#231f20" stroke-width="2.2" fill="none"/>
<text x="903.9" y="1132.2" text-anchor="end" class="t">0</text>
<text x="903.9" y="1061.13" text-anchor="end" class="t">10</text>
<text x="903.9" y="990.06" text-anchor="end" class="t">20</text>
<text x="903.9" y="918.99" text-anchor="end" class="t">30</text>
<text x="903.9" y="847.91" text-anchor="end" class="t">40</text>
<text x="903.9" y="776.84" text-anchor="end" class="t">50</text>
<text x="903.9" y="705.77" text-anchor="end" class="t">60</text>
<text x="903.9" y="634.7" text-anchor="end" class="t">70</text>
<text transform="translate(943.77 1139.2) rotate(-90)" text-anchor="end" class="t">7:00</text>
<text transform="translate(989.02 1139.2) rotate(-90)" text-anchor="end" class="t">9:00</text>
<text transform="translate(1034.28 1139.2) rotate(-90)" text-anchor="end" class="t">11:00</text>
<text transform="translate(1079.53 1139.2) rotate(-90)" text-anchor="end" class="t">13:00</text>
<text transform="translate(1124.79 1139.2) rotate(-90)" text-anchor="end" class="t">15:00</text>
<text transform="translate(1170.04 1139.2) rotate(-90)" text-anchor="end" class="t">17:00</text>
<text transform="translate(1215.3 1139.2) rotate(-90)" text-anchor="end" class="t">19:00</text>
<text transform="translate(1260.55 1139.2) rotate(-90)" text-anchor="end" class="t">21:00</text>
<text transform="translate(1305.81 1139.2) rotate(-90)" text-anchor="end" class="t">23:00</text>
<text transform="translate(1351.06 1139.2) rotate(-90)" text-anchor="end" class="t">1:00</text>
<text transform="translate(1396.32 1139.2) rotate(-90)" text-anchor="end" class="t">3:00</text>
<text transform="translate(1441.57 1139.2) rotate(-90)" text-anchor="end" class="t">5:00</text>
<path d="M934.87 947.48V974.12M928.37 947.48h13M928.37 974.12h13M957.41 861.83V884.67M950.91 861.83h13M950.91 884.67h13M979.94 851.36V881.81M973.44 851.36h13M973.44 881.81h13M1002.48 801.87V834.23M995.98 801.87h13M995.98 834.23h13M1025.02 791.4V804.73M1018.52 791.4h13M1018.52 804.73h13M1047.56 792.36V817.1M1041.06 792.36h13M1041.06 817.1h13M1070.09 789.88V822.24M1063.59 789.88h13M1063.59 822.24h13M1092.63 793.88V831.95M1086.13 793.88h13M1086.13 831.95h13M1115.17 836.7V870.96M1108.67 836.7h13M1108.67 870.96h13M1137.71 873.25V907.51M1131.21 873.25h13M1131.21 907.51h13M1160.24 918.93V964.61M1153.74 918.93h13M1153.74 964.61h13M1182.78 975.65V1016.38M1176.28 975.65h13M1176.28 1016.38h13M1205.32 961.75V996.01M1198.82 961.75h13M1198.82 996.01h13M1227.86 835.18V868.3M1221.36 835.18h13M1221.36 868.3h13M1250.39 790.07V805.3M1243.89 790.07h13M1243.89 805.3h13M1272.93 782.84V807.58M1266.43 782.84h13M1266.43 807.58h13M1295.47 789.12V810.82M1288.97 789.12h13M1288.97 810.82h13M1318.01 807.58V826.62M1311.51 807.58h13M1311.51 826.62h13M1340.54 811.77V827M1334.04 811.77h13M1334.04 827h13M1363.08 824.71V836.13M1356.58 824.71h13M1356.58 836.13h13M1385.62 836.13V853.26M1379.12 836.13h13M1379.12 853.26h13M1408.16 842.79V856.12M1401.66 842.79h13M1401.66 856.12h13M1430.69 856.31V872.3M1424.19 856.31h13M1424.19 872.3h13M1453.23 906.56V917.97M1446.73 906.56h13M1446.73 917.97h13" stroke="#231f20" stroke-width="1.4" fill="none"/>
<path d="M934.87 919.5V938.53M928.37 919.5h13M928.37 938.53h13M957.41 841.84V879.91M950.91 841.84h13M950.91 879.91h13M979.94 816.53V860.3M973.44 816.53h13M973.44 860.3h13M1002.48 802.82V831.37M995.98 802.82h13M995.98 831.37h13M1025.02 787.22V808.15M1018.52 787.22h13M1018.52 808.15h13M1047.56 780.56V801.49M1041.06 780.56h13M1041.06 801.49h13M1070.09 780.56V811.01M1063.59 780.56h13M1063.59 811.01h13M1092.63 782.84V817.1M1086.13 782.84h13M1086.13 817.1h13M1115.17 781.89V818.05M1108.67 781.89h13M1108.67 818.05h13M1137.71 800.92V833.28M1131.21 800.92h13M1131.21 833.28h13M1160.24 835.56V867.92M1153.74 835.56h13M1153.74 867.92h13M1182.78 872.3V908.46M1176.28 872.3h13M1176.28 908.46h13M1205.32 958.52V977.55M1198.82 958.52h13M1198.82 977.55h13M1227.86 895.14V916.07M1221.36 895.14h13M1221.36 916.07h13M1250.39 846.03V861.26M1243.89 846.03h13M1243.89 861.26h13M1272.93 840.51V853.83M1266.43 840.51h13M1266.43 853.83h13M1295.47 837.08V852.31M1288.97 837.08h13M1288.97 852.31h13M1318.01 838.04V855.17M1311.51 838.04h13M1311.51 855.17h13M1340.54 841.46V860.49M1334.04 841.46h13M1334.04 860.49h13M1363.08 868.11V887.14M1356.58 868.11h13M1356.58 887.14h13M1385.62 868.49V895.14M1379.12 868.49h13M1379.12 895.14h13M1408.16 880.86V899.89M1401.66 880.86h13M1401.66 899.89h13M1430.69 881.81V898.94M1424.19 881.81h13M1424.19 898.94h13M1453.23 906.56V921.78M1446.73 906.56h13M1446.73 921.78h13" stroke="#231f20" stroke-width="1.4" fill="none"/>
<path d="M934.87 944.62V982.69M928.37 944.62h13M928.37 982.69h13M957.41 939.86V987.45M950.91 939.86h13M950.91 987.45h13M979.94 935.68V970.7M973.44 935.68h13M973.44 970.7h13M1002.48 930.92V971.65M995.98 930.92h13M995.98 971.65h13M1025.02 917.02V951.28M1018.52 917.02h13M1018.52 951.28h13M1047.56 890V926.92M1041.06 890h13M1041.06 926.92h13M1070.09 885.62V931.3M1063.59 885.62h13M1063.59 931.3h13M1092.63 906.56V917.97M1086.13 906.56h13M1086.13 917.97h13M1115.17 901.8V939.86M1108.67 901.8h13M1108.67 939.86h13M1137.71 909.41V958.9M1131.21 909.41h13M1131.21 958.9h13M1160.24 919.5V973.55M1153.74 919.5h13M1153.74 973.55h13M1182.78 917.97V971.27M1176.28 917.97h13M1176.28 971.27h13M1205.32 910.36V957.94M1198.82 910.36h13M1198.82 957.94h13M1227.86 880.86V918.93M1221.36 880.86h13M1221.36 918.93h13M1250.39 860.88V885.62M1243.89 860.88h13M1243.89 885.62h13M1272.93 863.73V886.57M1266.43 863.73h13M1266.43 886.57h13M1295.47 831.37V852.31M1288.97 831.37h13M1288.97 852.31h13M1318.01 832.33V860.88M1311.51 832.33h13M1311.51 860.88h13M1340.54 838.99V866.78M1334.04 838.99h13M1334.04 866.78h13M1363.08 843.37V870.01M1356.58 843.37h13M1356.58 870.01h13M1385.62 855.17V874.2M1379.12 855.17h13M1379.12 874.2h13M1408.16 871.34V884.67M1401.66 871.34h13M1401.66 884.67h13M1430.69 883.72V916.07M1424.19 883.72h13M1424.19 916.07h13M1453.23 909.41V955.09M1446.73 909.41h13M1446.73 955.09h13" stroke="#231f20" stroke-width="1.4" fill="none"/>
<path d="M934.87 927.49V957.94M928.37 927.49h13M928.37 957.94h13M957.41 917.02V934.15M950.91 917.02h13M950.91 934.15h13M979.94 918.55V936.44M973.44 918.55h13M973.44 936.44h13M1002.48 910.93V931.87M995.98 910.93h13M995.98 931.87h13M1025.02 892.28V911.31M1018.52 892.28h13M1018.52 911.31h13M1047.56 885.62V900.85M1041.06 885.62h13M1041.06 900.85h13M1070.09 879.15V898.94M1063.59 879.15h13M1063.59 898.94h13M1092.63 890V909.79M1086.13 890h13M1086.13 909.79h13M1115.17 897.23V911.31M1108.67 897.23h13M1108.67 911.31h13M1137.71 897.61V914.74M1131.21 897.61h13M1131.21 914.74h13M1160.24 896.09V920.07M1153.74 896.09h13M1153.74 920.07h13M1182.78 915.12V943.67M1176.28 915.12h13M1176.28 943.67h13M1205.32 907.51V943.67M1198.82 907.51h13M1198.82 943.67h13M1227.86 918.55V931.87M1221.36 918.55h13M1221.36 931.87h13M1250.39 900.85V929.39M1243.89 900.85h13M1243.89 929.39h13M1272.93 870.39V893.23M1266.43 870.39h13M1266.43 893.23h13M1295.47 838.99V856.12M1288.97 838.99h13M1288.97 856.12h13M1318.01 835.75V850.98M1311.51 835.75h13M1311.51 850.98h13M1340.54 838.04V849.46M1334.04 838.04h13M1334.04 849.46h13M1363.08 838.99V852.31M1356.58 838.99h13M1356.58 852.31h13M1385.62 841.84V857.07M1379.12 841.84h13M1379.12 857.07h13M1408.16 856.12V869.44M1401.66 856.12h13M1401.66 869.44h13M1430.69 861.83V877.05M1424.19 861.83h13M1424.19 877.05h13M1453.23 890.95V912.65M1446.73 890.95h13M1446.73 912.65h13" stroke="#231f20" stroke-width="1.4" fill="none"/>
<path d="M932.87 960.8L955.41 873.25L977.94 866.59L1000.48 818.05L1023.02 798.07L1045.56 804.73L1068.09 806.06L1090.63 812.91L1113.17 853.83L1135.71 890.38L1158.24 941.77L1180.78 996.01L1203.32 978.88L1225.86 851.74L1248.39 797.69L1270.93 795.21L1293.47 799.97L1316.01 817.1L1338.54 819.38L1361.08 830.42L1383.62 844.7L1406.16 849.46L1428.69 864.3L1451.23 912.26" stroke="#231f20" stroke-width="2.0" fill="none" stroke-linejoin="round"/>
<circle cx="932.87" cy="960.8" r="5" fill="#231f20"/>
<circle cx="955.41" cy="873.25" r="5" fill="#231f20"/>
<circle cx="977.94" cy="866.59" r="5" fill="#231f20"/>
<circle cx="1000.48" cy="818.05" r="5" fill="#231f20"/>
<circle cx="1023.02" cy="798.07" r="5" fill="#231f20"/>
<circle cx="1045.56" cy="804.73" r="5" fill="#231f20"/>
<circle cx="1068.09" cy="806.06" r="5" fill="#231f20"/>
<circle cx="1090.63" cy="812.91" r="5" fill="#231f20"/>
<circle cx="1113.17" cy="853.83" r="5" fill="#231f20"/>
<circle cx="1135.71" cy="890.38" r="5" fill="#231f20"/>
<circle cx="1158.24" cy="941.77" r="5" fill="#231f20"/>
<circle cx="1180.78" cy="996.01" r="5" fill="#231f20"/>
<circle cx="1203.32" cy="978.88" r="5" fill="#231f20"/>
<circle cx="1225.86" cy="851.74" r="5" fill="#231f20"/>
<circle cx="1248.39" cy="797.69" r="5" fill="#231f20"/>
<circle cx="1270.93" cy="795.21" r="5" fill="#231f20"/>
<circle cx="1293.47" cy="799.97" r="5" fill="#231f20"/>
<circle cx="1316.01" cy="817.1" r="5" fill="#231f20"/>
<circle cx="1338.54" cy="819.38" r="5" fill="#231f20"/>
<circle cx="1361.08" cy="830.42" r="5" fill="#231f20"/>
<circle cx="1383.62" cy="844.7" r="5" fill="#231f20"/>
<circle cx="1406.16" cy="849.46" r="5" fill="#231f20"/>
<circle cx="1428.69" cy="864.3" r="5" fill="#231f20"/>
<circle cx="1451.23" cy="912.26" r="5" fill="#231f20"/>
<path d="M932.87 929.01L955.41 860.88L977.94 838.42L1000.48 817.1L1023.02 797.69L1045.56 791.02L1068.09 795.78L1090.63 799.97L1113.17 799.97L1135.71 817.1L1158.24 851.74L1180.78 890.38L1203.32 968.03L1225.86 905.6L1248.39 853.64L1270.93 847.17L1293.47 844.7L1316.01 846.6L1338.54 850.98L1361.08 877.62L1383.62 881.81L1406.16 890.38L1428.69 890.38L1451.23 914.17" stroke="#e8232b" stroke-width="2.0" fill="none" stroke-linejoin="round"/>
<circle cx="932.87" cy="929.01" r="5" fill="#e8232b"/>
<circle cx="955.41" cy="860.88" r="5" fill="#e8232b"/>
<circle cx="977.94" cy="838.42" r="5" fill="#e8232b"/>
<circle cx="1000.48" cy="817.1" r="5" fill="#e8232b"/>
<circle cx="1023.02" cy="797.69" r="5" fill="#e8232b"/>
<circle cx="1045.56" cy="791.02" r="5" fill="#e8232b"/>
<circle cx="1068.09" cy="795.78" r="5" fill="#e8232b"/>
<circle cx="1090.63" cy="799.97" r="5" fill="#e8232b"/>
<circle cx="1113.17" cy="799.97" r="5" fill="#e8232b"/>
<circle cx="1135.71" cy="817.1" r="5" fill="#e8232b"/>
<circle cx="1158.24" cy="851.74" r="5" fill="#e8232b"/>
<circle cx="1180.78" cy="890.38" r="5" fill="#e8232b"/>
<circle cx="1203.32" cy="968.03" r="5" fill="#e8232b"/>
<circle cx="1225.86" cy="905.6" r="5" fill="#e8232b"/>
<circle cx="1248.39" cy="853.64" r="5" fill="#e8232b"/>
<circle cx="1270.93" cy="847.17" r="5" fill="#e8232b"/>
<circle cx="1293.47" cy="844.7" r="5" fill="#e8232b"/>
<circle cx="1316.01" cy="846.6" r="5" fill="#e8232b"/>
<circle cx="1338.54" cy="850.98" r="5" fill="#e8232b"/>
<circle cx="1361.08" cy="877.62" r="5" fill="#e8232b"/>
<circle cx="1383.62" cy="881.81" r="5" fill="#e8232b"/>
<circle cx="1406.16" cy="890.38" r="5" fill="#e8232b"/>
<circle cx="1428.69" cy="890.38" r="5" fill="#e8232b"/>
<circle cx="1451.23" cy="914.17" r="5" fill="#e8232b"/>
<path d="M934.87 963.65L957.41 963.65L979.94 953.19L1002.48 951.28L1025.02 934.15L1047.56 908.46L1070.09 908.46L1092.63 912.26L1115.17 920.83L1137.71 934.15L1160.24 946.52L1182.78 944.62L1205.32 934.15L1227.86 899.89L1250.39 873.25L1272.93 875.15L1295.47 841.84L1318.01 846.6L1340.54 852.88L1363.08 856.69L1385.62 864.68L1408.16 878.01L1430.69 899.89L1453.23 932.25" stroke="#231f20" stroke-width="2.0" fill="none" stroke-linejoin="round"/>
<path d="M934.87 958.55L939.97 968.45H929.77Z" fill="#231f20"/>
<path d="M957.41 958.55L962.51 968.45H952.31Z" fill="#231f20"/>
<path d="M979.94 948.09L985.04 957.99H974.84Z" fill="#231f20"/>
<path d="M1002.48 946.18L1007.58 956.08H997.38Z" fill="#231f20"/>
<path d="M1025.02 929.05L1030.12 938.95H1019.92Z" fill="#231f20"/>
<path d="M1047.56 903.36L1052.66 913.26H1042.46Z" fill="#231f20"/>
<path d="M1070.09 903.36L1075.19 913.26H1064.99Z" fill="#231f20"/>
<path d="M1092.63 907.16L1097.73 917.06H1087.53Z" fill="#231f20"/>
<path d="M1115.17 915.73L1120.27 925.63H1110.07Z" fill="#231f20"/>
<path d="M1137.71 929.05L1142.81 938.95H1132.61Z" fill="#231f20"/>
<path d="M1160.24 941.42L1165.34 951.32H1155.14Z" fill="#231f20"/>
<path d="M1182.78 939.52L1187.88 949.42H1177.68Z" fill="#231f20"/>
<path d="M1205.32 929.05L1210.42 938.95H1200.22Z" fill="#231f20"/>
<path d="M1227.86 894.79L1232.96 904.69H1222.76Z" fill="#231f20"/>
<path d="M1250.39 868.15L1255.49 878.05H1245.29Z" fill="#231f20"/>
<path d="M1272.93 870.05L1278.03 879.95H1267.83Z" fill="#231f20"/>
<path d="M1295.47 836.74L1300.57 846.64H1290.37Z" fill="#231f20"/>
<path d="M1318.01 841.5L1323.11 851.4H1312.91Z" fill="#231f20"/>
<path d="M1340.54 847.78L1345.64 857.68H1335.44Z" fill="#231f20"/>
<path d="M1363.08 851.59L1368.18 861.49H1357.98Z" fill="#231f20"/>
<path d="M1385.62 859.58L1390.72 869.48H1380.52Z" fill="#231f20"/>
<path d="M1408.16 872.91L1413.26 882.81H1403.06Z" fill="#231f20"/>
<path d="M1430.69 894.79L1435.79 904.69H1425.59Z" fill="#231f20"/>
<path d="M1453.23 927.15L1458.33 937.05H1448.13Z" fill="#231f20"/>
<path d="M934.87 942.72L957.41 925.59L979.94 927.49L1002.48 921.4L1025.02 901.8L1047.56 893.23L1070.09 889.04L1092.63 899.89L1115.17 904.27L1137.71 906.17L1160.24 908.08L1182.78 929.39L1205.32 925.59L1227.86 925.21L1250.39 915.12L1272.93 881.81L1295.47 847.55L1318.01 843.37L1340.54 843.75L1363.08 845.65L1385.62 849.46L1408.16 862.78L1430.69 869.44L1453.23 901.8" stroke="#e8232b" stroke-width="2.0" fill="none" stroke-linejoin="round"/>
<path d="M934.87 937.62L939.97 947.52H929.77Z" fill="#e8232b"/>
<path d="M957.41 920.49L962.51 930.39H952.31Z" fill="#e8232b"/>
<path d="M979.94 922.39L985.04 932.29H974.84Z" fill="#e8232b"/>
<path d="M1002.48 916.3L1007.58 926.2H997.38Z" fill="#e8232b"/>
<path d="M1025.02 896.7L1030.12 906.6H1019.92Z" fill="#e8232b"/>
<path d="M1047.56 888.13L1052.66 898.03H1042.46Z" fill="#e8232b"/>
<path d="M1070.09 883.94L1075.19 893.84H1064.99Z" fill="#e8232b"/>
<path d="M1092.63 894.79L1097.73 904.69H1087.53Z" fill="#e8232b"/>
<path d="M1115.17 899.17L1120.27 909.07H1110.07Z" fill="#e8232b"/>
<path d="M1137.71 901.07L1142.81 910.97H1132.61Z" fill="#e8232b"/>
<path d="M1160.24 902.98L1165.34 912.88H1155.14Z" fill="#e8232b"/>
<path d="M1182.78 924.29L1187.88 934.19H1177.68Z" fill="#e8232b"/>
<path d="M1205.32 920.49L1210.42 930.39H1200.22Z" fill="#e8232b"/>
<path d="M1227.86 920.11L1232.96 930.01H1222.76Z" fill="#e8232b"/>
<path d="M1250.39 910.02L1255.49 919.92H1245.29Z" fill="#e8232b"/>
<path d="M1272.93 876.71L1278.03 886.61H1267.83Z" fill="#e8232b"/>
<path d="M1295.47 842.45L1300.57 852.35H1290.37Z" fill="#e8232b"/>
<path d="M1318.01 838.27L1323.11 848.17H1312.91Z" fill="#e8232b"/>
<path d="M1340.54 838.65L1345.64 848.55H1335.44Z" fill="#e8232b"/>
<path d="M1363.08 840.55L1368.18 850.45H1357.98Z" fill="#e8232b"/>
<path d="M1385.62 844.36L1390.72 854.26H1380.52Z" fill="#e8232b"/>
<path d="M1408.16 857.68L1413.26 867.58H1403.06Z" fill="#e8232b"/>
<path d="M1430.69 864.34L1435.79 874.24H1425.59Z" fill="#e8232b"/>
<path d="M1453.23 896.7L1458.33 906.6H1448.13Z" fill="#e8232b"/>
<path d="M1111.2 634.4h57" stroke="#231f20" stroke-width="1.9"/>
<circle cx="1139.2" cy="633.4" r="4.9" fill="#231f20"/>
<text x="1174.6" y="642.6" class="lg">LD-Control</text>
<path d="M1111.2 683.7h57" stroke="#231f20" stroke-width="1.9"/>
<path d="M1140.2 679.1L1145.1 688.9H1135.3Z" fill="#231f20"/>
<text x="1174.6" y="691.9" class="lg">DD-Control</text>
<path d="M1305.9 634.4h57" stroke="#e8232b" stroke-width="1.9"/>
<circle cx="1333.9" cy="633.4" r="4.9" fill="#e8232b"/>
<text x="1369.3" y="642.6" class="lg">LD-SM</text>
<path d="M1305.9 683.7h57" stroke="#e8232b" stroke-width="1.9"/>
<path d="M1334.9 679.1L1339.8 688.9H1330Z" fill="#e8232b"/>
<text x="1369.3" y="691.9" class="lg">DD-SM</text>
</g>
<g id="pe">
<text x="-1.5" y="1237.7" class="pl" letter-spacing="0.6">(e)</text>
<text transform="translate(39.5 1481.1) rotate(-90)" text-anchor="middle" class="yt">Activity (counts/h)</text>
<path d="M109.4 1230.4V1728.2H650.3" fill="none" stroke="#231f20" stroke-width="2.3" stroke-linejoin="round"/>
<path d="M109.4 1665.98h6M109.4 1603.75h6M109.4 1541.53h6M109.4 1479.3h6M109.4 1417.08h6M109.4 1354.85h6M109.4 1292.62h6M109.4 1230.4h6M131.94 1728.2v-6M154.47 1728.2v-6M177.01 1728.2v-6M199.55 1728.2v-6M222.09 1728.2v-6M244.62 1728.2v-6M267.16 1728.2v-6M289.7 1728.2v-6M312.24 1728.2v-6M334.77 1728.2v-6M357.31 1728.2v-6M379.85 1728.2v-6M402.39 1728.2v-6M424.92 1728.2v-6M447.46 1728.2v-6M470 1728.2v-6M492.54 1728.2v-6M515.07 1728.2v-6M537.61 1728.2v-6M560.15 1728.2v-6M582.69 1728.2v-6M605.22 1728.2v-6M627.76 1728.2v-6M650.3 1728.2v-6" stroke="#231f20" stroke-width="2.2" fill="none"/>
<text x="89.4" y="1737.2" text-anchor="end" class="t">0</text>
<text x="89.4" y="1674.98" text-anchor="end" class="t">20</text>
<text x="89.4" y="1612.75" text-anchor="end" class="t">40</text>
<text x="89.4" y="1550.53" text-anchor="end" class="t">60</text>
<text x="89.4" y="1488.3" text-anchor="end" class="t">80</text>
<text x="89.4" y="1426.08" text-anchor="end" class="t">100</text>
<text x="89.4" y="1363.85" text-anchor="end" class="t">120</text>
<text x="89.4" y="1301.62" text-anchor="end" class="t">140</text>
<text x="89.4" y="1239.4" text-anchor="end" class="t">160</text>
<text transform="translate(129.27 1744.2) rotate(-90)" text-anchor="end" class="t">7:00</text>
<text transform="translate(174.52 1744.2) rotate(-90)" text-anchor="end" class="t">9:00</text>
<text transform="translate(219.78 1744.2) rotate(-90)" text-anchor="end" class="t">11:00</text>
<text transform="translate(265.03 1744.2) rotate(-90)" text-anchor="end" class="t">13:00</text>
<text transform="translate(310.29 1744.2) rotate(-90)" text-anchor="end" class="t">15:00</text>
<text transform="translate(355.54 1744.2) rotate(-90)" text-anchor="end" class="t">17:00</text>
<text transform="translate(400.8 1744.2) rotate(-90)" text-anchor="end" class="t">19:00</text>
<text transform="translate(446.05 1744.2) rotate(-90)" text-anchor="end" class="t">21:00</text>
<text transform="translate(491.31 1744.2) rotate(-90)" text-anchor="end" class="t">23:00</text>
<text transform="translate(536.56 1744.2) rotate(-90)" text-anchor="end" class="t">1:00</text>
<text transform="translate(581.82 1744.2) rotate(-90)" text-anchor="end" class="t">3:00</text>
<text transform="translate(627.07 1744.2) rotate(-90)" text-anchor="end" class="t">5:00</text>
<path d="M120.37 1535.07V1567.43M113.87 1535.07h13M113.87 1567.43h13M142.91 1656.89V1668.31M136.41 1656.89h13M136.41 1668.31h13M165.44 1674.02V1694.95M158.94 1674.02h13M158.94 1694.95h13M187.98 1687.34V1704.47M181.48 1687.34h13M181.48 1704.47h13M210.52 1694.95V1704.47M204.02 1694.95h13M204.02 1704.47h13M233.06 1697.81V1709.23M226.56 1697.81h13M226.56 1709.23h13M255.59 1698.76V1708.28M249.09 1698.76h13M249.09 1708.28h13M278.13 1675.92V1693.05M271.63 1675.92h13M271.63 1693.05h13M300.67 1642.61V1652.13M294.17 1642.61h13M294.17 1652.13h13M323.21 1527.46V1552.2M316.71 1527.46h13M316.71 1552.2h13M345.74 1431.91V1450.95M339.24 1431.91h13M339.24 1450.95h13M368.28 1369.11V1376.72M361.78 1369.11h13M361.78 1376.72h13M390.82 1441.81V1472.26M384.32 1441.81h13M384.32 1472.26h13M413.36 1646.8V1662.03M406.86 1646.8h13M406.86 1662.03h13M435.89 1699.71V1705.42M429.39 1699.71h13M429.39 1705.42h13M458.43 1689.24V1698.76M451.93 1689.24h13M451.93 1698.76h13M480.97 1674.02V1691.15M474.47 1674.02h13M474.47 1691.15h13M503.51 1674.02V1687.34M497.01 1674.02h13M497.01 1687.34h13M526.04 1670.21V1677.82M519.54 1670.21h13M519.54 1677.82h13M548.58 1667.35V1676.87M542.08 1667.35h13M542.08 1676.87h13M571.12 1666.02V1673.64M564.62 1666.02h13M564.62 1673.64h13M593.66 1661.64V1680.68M587.16 1661.64h13M587.16 1680.68h13M616.19 1641.66V1654.98M609.69 1641.66h13M609.69 1654.98h13M638.73 1582.66V1594.08M632.23 1582.66h13M632.23 1594.08h13" stroke="#231f20" stroke-width="1.4" fill="none"/>
<path d="M120.37 1523.08V1540.21M113.87 1523.08h13M113.87 1540.21h13M142.91 1584.56V1613.11M136.41 1584.56h13M136.41 1613.11h13M165.44 1592.74V1629.67M158.94 1592.74h13M158.94 1629.67h13M187.98 1605.5V1639.76M181.48 1605.5h13M181.48 1639.76h13M210.52 1633.09V1650.22M204.02 1633.09h13M204.02 1650.22h13M233.06 1644.51V1663.55M226.56 1644.51h13M226.56 1663.55h13M255.59 1643.56V1660.69M249.09 1643.56h13M249.09 1660.69h13M278.13 1634.05V1649.27M271.63 1634.05h13M271.63 1649.27h13M300.67 1628.34V1641.66M294.17 1628.34h13M294.17 1641.66h13M323.21 1565.53V1590.27M316.71 1565.53h13M316.71 1590.27h13M345.74 1450.38V1480.83M339.24 1450.38h13M339.24 1480.83h13M368.28 1307.25V1351.02M361.78 1307.25h13M361.78 1351.02h13M390.82 1349.5V1391.37M384.32 1349.5h13M384.32 1391.37h13M413.36 1521.75V1550.3M406.86 1521.75h13M406.86 1550.3h13M435.89 1609.68V1643.94M429.39 1609.68h13M429.39 1643.94h13M458.43 1609.3V1635.95M451.93 1609.3h13M451.93 1635.95h13M480.97 1606.45V1635M474.47 1606.45h13M474.47 1635h13M503.51 1610.26V1635M497.01 1610.26h13M497.01 1635h13M526.04 1614.06V1638.8M519.54 1614.06h13M519.54 1638.8h13M548.58 1595.03V1617.87M542.08 1595.03h13M542.08 1617.87h13M571.12 1578.85V1605.5M564.62 1578.85h13M564.62 1605.5h13M593.66 1561.15V1585.13M587.16 1561.15h13M587.16 1585.13h13M616.19 1518.9V1558.1M609.69 1518.9h13M609.69 1558.1h13M638.73 1528.41V1556.96M632.23 1528.41h13M632.23 1556.96h13" stroke="#231f20" stroke-width="1.4" fill="none"/>
<path d="M120.37 1656.89V1668.31M113.87 1656.89h13M113.87 1668.31h13M142.91 1663.55V1682.58M136.41 1663.55h13M136.41 1682.58h13M165.44 1673.06V1682.58M158.94 1673.06h13M158.94 1682.58h13M187.98 1665.07V1675.35M181.48 1665.07h13M181.48 1675.35h13M210.52 1641.66V1658.79M204.02 1641.66h13M204.02 1658.79h13M233.06 1612.16V1642.61M226.56 1612.16h13M226.56 1642.61h13M255.59 1590.27V1630.24M249.09 1590.27h13M249.09 1630.24h13M278.13 1551.25V1585.51M271.63 1551.25h13M271.63 1585.51h13M300.67 1542.31V1579.23M294.17 1542.31h13M294.17 1579.23h13M323.21 1520.8V1555.06M316.71 1520.8h13M316.71 1555.06h13M345.74 1509V1551.63M339.24 1509h13M339.24 1551.63h13M368.28 1471.31V1501.77M361.78 1471.31h13M361.78 1501.77h13M390.82 1502.72V1540.78M384.32 1502.72h13M384.32 1540.78h13M413.36 1549.35V1581.71M406.86 1549.35h13M406.86 1581.71h13M435.89 1595.98V1615.01M429.39 1595.98h13M429.39 1615.01h13M458.43 1637.85V1651.18M451.93 1637.85h13M451.93 1651.18h13M480.97 1674.02V1685.44M474.47 1674.02h13M474.47 1685.44h13M503.51 1673.06V1686.39M497.01 1673.06h13M497.01 1686.39h13M526.04 1680.68V1688.29M519.54 1680.68h13M519.54 1688.29h13M548.58 1679.73V1689.24M542.08 1679.73h13M542.08 1689.24h13M571.12 1678.77V1686.39M564.62 1678.77h13M564.62 1686.39h13M593.66 1660.69V1668.31M587.16 1660.69h13M587.16 1668.31h13M616.19 1649.27V1664.5M609.69 1649.27h13M609.69 1664.5h13M638.73 1663.55V1673.06M632.23 1663.55h13M632.23 1673.06h13" stroke="#231f20" stroke-width="1.4" fill="none"/>
<path d="M120.37 1567.43V1605.5M113.87 1567.43h13M113.87 1605.5h13M142.91 1586.46V1615.01M136.41 1586.46h13M136.41 1615.01h13M165.44 1589.32V1612.16M158.94 1589.32h13M158.94 1612.16h13M187.98 1590.27V1624.53M181.48 1590.27h13M181.48 1624.53h13M210.52 1584.56V1615.01M204.02 1584.56h13M204.02 1615.01h13M233.06 1556.58V1599.22M226.56 1556.58h13M226.56 1599.22h13M255.59 1541.74V1579.8M249.09 1541.74h13M249.09 1579.8h13M278.13 1534.12V1568.38M271.63 1534.12h13M271.63 1568.38h13M300.67 1504.43V1551.25M294.17 1504.43h13M294.17 1551.25h13M323.21 1485.59V1536.98M316.71 1485.59h13M316.71 1536.98h13M345.74 1483.68V1508.43M339.24 1483.68h13M339.24 1508.43h13M368.28 1440.48V1483.11M361.78 1440.48h13M361.78 1483.11h13M390.82 1441.24V1469.79M384.32 1441.24h13M384.32 1469.79h13M413.36 1478.93V1530.32M406.86 1478.93h13M406.86 1530.32h13M435.89 1496.63V1539.26M429.39 1496.63h13M429.39 1539.26h13M458.43 1536.98V1571.24M451.93 1536.98h13M451.93 1571.24h13M480.97 1582.66V1601.69M474.47 1582.66h13M474.47 1601.69h13M503.51 1601.69V1626.43M497.01 1601.69h13M497.01 1626.43h13M526.04 1608.35V1638.8M519.54 1608.35h13M519.54 1638.8h13M548.58 1620.72V1645.47M542.08 1620.72h13M542.08 1645.47h13M571.12 1617.49V1644.9M564.62 1617.49h13M564.62 1644.9h13M593.66 1586.46V1620.72M587.16 1586.46h13M587.16 1620.72h13M616.19 1570.67V1611.78M609.69 1570.67h13M609.69 1611.78h13M638.73 1583.61V1615.96M632.23 1583.61h13M632.23 1615.96h13" stroke="#231f20" stroke-width="1.4" fill="none"/>
<path d="M118.37 1551.25L140.91 1662.6L163.44 1684.48L185.98 1695.9L208.52 1699.71L231.06 1703.52L253.59 1703.52L276.13 1684.48L298.67 1647.37L321.21 1539.83L343.74 1441.43L366.28 1372.91L388.82 1457.04L411.36 1654.41L433.89 1702.57L456.43 1694L478.97 1682.58L501.51 1680.68L524.04 1674.02L546.58 1672.11L569.12 1669.83L591.66 1671.16L614.19 1648.32L636.73 1588.37" stroke="#231f20" stroke-width="2.0" fill="none" stroke-linejoin="round"/>
<circle cx="118.37" cy="1551.25" r="5" fill="#231f20"/>
<circle cx="140.91" cy="1662.6" r="5" fill="#231f20"/>
<circle cx="163.44" cy="1684.48" r="5" fill="#231f20"/>
<circle cx="185.98" cy="1695.9" r="5" fill="#231f20"/>
<circle cx="208.52" cy="1699.71" r="5" fill="#231f20"/>
<circle cx="231.06" cy="1703.52" r="5" fill="#231f20"/>
<circle cx="253.59" cy="1703.52" r="5" fill="#231f20"/>
<circle cx="276.13" cy="1684.48" r="5" fill="#231f20"/>
<circle cx="298.67" cy="1647.37" r="5" fill="#231f20"/>
<circle cx="321.21" cy="1539.83" r="5" fill="#231f20"/>
<circle cx="343.74" cy="1441.43" r="5" fill="#231f20"/>
<circle cx="366.28" cy="1372.91" r="5" fill="#231f20"/>
<circle cx="388.82" cy="1457.04" r="5" fill="#231f20"/>
<circle cx="411.36" cy="1654.41" r="5" fill="#231f20"/>
<circle cx="433.89" cy="1702.57" r="5" fill="#231f20"/>
<circle cx="456.43" cy="1694" r="5" fill="#231f20"/>
<circle cx="478.97" cy="1682.58" r="5" fill="#231f20"/>
<circle cx="501.51" cy="1680.68" r="5" fill="#231f20"/>
<circle cx="524.04" cy="1674.02" r="5" fill="#231f20"/>
<circle cx="546.58" cy="1672.11" r="5" fill="#231f20"/>
<circle cx="569.12" cy="1669.83" r="5" fill="#231f20"/>
<circle cx="591.66" cy="1671.16" r="5" fill="#231f20"/>
<circle cx="614.19" cy="1648.32" r="5" fill="#231f20"/>
<circle cx="636.73" cy="1588.37" r="5" fill="#231f20"/>
<path d="M118.37 1531.65L140.91 1598.84L163.44 1611.21L185.98 1622.63L208.52 1641.66L231.06 1654.03L253.59 1652.13L276.13 1641.66L298.67 1635L321.21 1577.9L343.74 1465.6L366.28 1329.14L388.82 1370.44L411.36 1536.03L433.89 1626.81L456.43 1622.63L478.97 1620.72L501.51 1622.63L524.04 1626.43L546.58 1606.45L569.12 1592.17L591.66 1573.14L614.19 1538.5L636.73 1542.69" stroke="#e8232b" stroke-width="2.0" fill="none" stroke-linejoin="round"/>
<circle cx="118.37" cy="1531.65" r="5" fill="#e8232b"/>
<circle cx="140.91" cy="1598.84" r="5" fill="#e8232b"/>
<circle cx="163.44" cy="1611.21" r="5" fill="#e8232b"/>
<circle cx="185.98" cy="1622.63" r="5" fill="#e8232b"/>
<circle cx="208.52" cy="1641.66" r="5" fill="#e8232b"/>
<circle cx="231.06" cy="1654.03" r="5" fill="#e8232b"/>
<circle cx="253.59" cy="1652.13" r="5" fill="#e8232b"/>
<circle cx="276.13" cy="1641.66" r="5" fill="#e8232b"/>
<circle cx="298.67" cy="1635" r="5" fill="#e8232b"/>
<circle cx="321.21" cy="1577.9" r="5" fill="#e8232b"/>
<circle cx="343.74" cy="1465.6" r="5" fill="#e8232b"/>
<circle cx="366.28" cy="1329.14" r="5" fill="#e8232b"/>
<circle cx="388.82" cy="1370.44" r="5" fill="#e8232b"/>
<circle cx="411.36" cy="1536.03" r="5" fill="#e8232b"/>
<circle cx="433.89" cy="1626.81" r="5" fill="#e8232b"/>
<circle cx="456.43" cy="1622.63" r="5" fill="#e8232b"/>
<circle cx="478.97" cy="1620.72" r="5" fill="#e8232b"/>
<circle cx="501.51" cy="1622.63" r="5" fill="#e8232b"/>
<circle cx="524.04" cy="1626.43" r="5" fill="#e8232b"/>
<circle cx="546.58" cy="1606.45" r="5" fill="#e8232b"/>
<circle cx="569.12" cy="1592.17" r="5" fill="#e8232b"/>
<circle cx="591.66" cy="1573.14" r="5" fill="#e8232b"/>
<circle cx="614.19" cy="1538.5" r="5" fill="#e8232b"/>
<circle cx="636.73" cy="1542.69" r="5" fill="#e8232b"/>
<path d="M120.37 1662.6L142.91 1673.06L165.44 1677.82L187.98 1670.21L210.52 1650.22L233.06 1627.38L255.59 1610.26L278.13 1568.38L300.67 1560.77L323.21 1537.93L345.74 1530.32L368.28 1486.54L390.82 1521.75L413.36 1565.53L435.89 1605.5L458.43 1644.51L480.97 1679.73L503.51 1679.73L526.04 1684.48L548.58 1684.48L571.12 1682.58L593.66 1664.5L616.19 1656.89L638.73 1668.31" stroke="#231f20" stroke-width="2.0" fill="none" stroke-linejoin="round"/>
<path d="M120.37 1657.5L125.47 1667.4H115.27Z" fill="#231f20"/>
<path d="M142.91 1667.96L148.01 1677.86H137.81Z" fill="#231f20"/>
<path d="M165.44 1672.72L170.54 1682.62H160.34Z" fill="#231f20"/>
<path d="M187.98 1665.11L193.08 1675.01H182.88Z" fill="#231f20"/>
<path d="M210.52 1645.12L215.62 1655.02H205.42Z" fill="#231f20"/>
<path d="M233.06 1622.28L238.16 1632.18H227.96Z" fill="#231f20"/>
<path d="M255.59 1605.16L260.69 1615.06H250.49Z" fill="#231f20"/>
<path d="M278.13 1563.28L283.23 1573.18H273.03Z" fill="#231f20"/>
<path d="M300.67 1555.67L305.77 1565.57H295.57Z" fill="#231f20"/>
<path d="M323.21 1532.83L328.31 1542.73H318.11Z" fill="#231f20"/>
<path d="M345.74 1525.22L350.84 1535.12H340.64Z" fill="#231f20"/>
<path d="M368.28 1481.44L373.38 1491.34H363.18Z" fill="#231f20"/>
<path d="M390.82 1516.65L395.92 1526.55H385.72Z" fill="#231f20"/>
<path d="M413.36 1560.43L418.46 1570.33H408.26Z" fill="#231f20"/>
<path d="M435.89 1600.4L440.99 1610.3H430.79Z" fill="#231f20"/>
<path d="M458.43 1639.41L463.53 1649.31H453.33Z" fill="#231f20"/>
<path d="M480.97 1674.63L486.07 1684.53H475.87Z" fill="#231f20"/>
<path d="M503.51 1674.63L508.61 1684.53H498.41Z" fill="#231f20"/>
<path d="M526.04 1679.38L531.14 1689.28H520.94Z" fill="#231f20"/>
<path d="M548.58 1679.38L553.68 1689.28H543.48Z" fill="#231f20"/>
<path d="M571.12 1677.48L576.22 1687.38H566.02Z" fill="#231f20"/>
<path d="M593.66 1659.4L598.76 1669.3H588.56Z" fill="#231f20"/>
<path d="M616.19 1651.79L621.29 1661.69H611.09Z" fill="#231f20"/>
<path d="M638.73 1663.21L643.83 1673.11H633.63Z" fill="#231f20"/>
<path d="M120.37 1586.46L142.91 1600.74L165.44 1600.74L187.98 1607.4L210.52 1599.79L233.06 1577.9L255.59 1560.77L278.13 1551.25L300.67 1527.84L323.21 1511.28L345.74 1496.06L368.28 1461.8L390.82 1455.52L413.36 1504.62L435.89 1517.94L458.43 1554.11L480.97 1592.17L503.51 1614.06L526.04 1623.58L548.58 1633.09L571.12 1631.19L593.66 1603.59L616.19 1591.22L638.73 1599.79" stroke="#e8232b" stroke-width="2.0" fill="none" stroke-linejoin="round"/>
<path d="M120.37 1581.36L125.47 1591.26H115.27Z" fill="#e8232b"/>
<path d="M142.91 1595.64L148.01 1605.54H137.81Z" fill="#e8232b"/>
<path d="M165.44 1595.64L170.54 1605.54H160.34Z" fill="#e8232b"/>
<path d="M187.98 1602.3L193.08 1612.2H182.88Z" fill="#e8232b"/>
<path d="M210.52 1594.69L215.62 1604.59H205.42Z" fill="#e8232b"/>
<path d="M233.06 1572.8L238.16 1582.7H227.96Z" fill="#e8232b"/>
<path d="M255.59 1555.67L260.69 1565.57H250.49Z" fill="#e8232b"/>
<path d="M278.13 1546.15L283.23 1556.05H273.03Z" fill="#e8232b"/>
<path d="M300.67 1522.74L305.77 1532.64H295.57Z" fill="#e8232b"/>
<path d="M323.21 1506.18L328.31 1516.08H318.11Z" fill="#e8232b"/>
<path d="M345.74 1490.96L350.84 1500.86H340.64Z" fill="#e8232b"/>
<path d="M368.28 1456.7L373.38 1466.6H363.18Z" fill="#e8232b"/>
<path d="M390.82 1450.42L395.92 1460.32H385.72Z" fill="#e8232b"/>
<path d="M413.36 1499.52L418.46 1509.42H408.26Z" fill="#e8232b"/>
<path d="M435.89 1512.84L440.99 1522.74H430.79Z" fill="#e8232b"/>
<path d="M458.43 1549.01L463.53 1558.91H453.33Z" fill="#e8232b"/>
<path d="M480.97 1587.07L486.07 1596.97H475.87Z" fill="#e8232b"/>
<path d="M503.51 1608.96L508.61 1618.86H498.41Z" fill="#e8232b"/>
<path d="M526.04 1618.48L531.14 1628.38H520.94Z" fill="#e8232b"/>
<path d="M548.58 1627.99L553.68 1637.89H543.48Z" fill="#e8232b"/>
<path d="M571.12 1626.09L576.22 1635.99H566.02Z" fill="#e8232b"/>
<path d="M593.66 1598.49L598.76 1608.39H588.56Z" fill="#e8232b"/>
<path d="M616.19 1586.12L621.29 1596.02H611.09Z" fill="#e8232b"/>
<path d="M638.73 1594.69L643.83 1604.59H633.63Z" fill="#e8232b"/>
<path d="M293.8 1239.4h57" stroke="#231f20" stroke-width="1.9"/>
<circle cx="321.8" cy="1238.4" r="4.9" fill="#231f20"/>
<text x="358.3" y="1247.6" class="lg">LD-Control</text>
<path d="M293.8 1288.7h57" stroke="#231f20" stroke-width="1.9"/>
<path d="M322.8 1284.1L327.7 1293.9H317.9Z" fill="#231f20"/>
<text x="358.3" y="1296.9" class="lg">DD-Control</text>
<path d="M491.6 1239.4h57" stroke="#e8232b" stroke-width="1.9"/>
<circle cx="519.6" cy="1238.4" r="4.9" fill="#e8232b"/>
<text x="556.1" y="1247.6" class="lg">LD-SM</text>
<path d="M491.6 1288.7h57" stroke="#e8232b" stroke-width="1.9"/>
<path d="M520.6 1284.1L525.5 1293.9H515.7Z" fill="#e8232b"/>
<text x="556.1" y="1296.9" class="lg">DD-SM</text>
</g>
<g id="pf">
<text x="813" y="1237.5" class="pl" letter-spacing="2.4">(f)</text>
<text transform="translate(862.8 1479.15) rotate(-90)" text-anchor="middle" class="yt2">Sleep (min)</text>
<path d="M923.9 1230.2V1728.1H1465" fill="none" stroke="#231f20" stroke-width="2.3" stroke-linejoin="round"/>
<path d="M923.9 1656.97h6M923.9 1585.84h6M923.9 1514.71h6M923.9 1443.59h6M923.9 1372.46h6M923.9 1301.33h6M923.9 1230.2h6M946.45 1728.1v-6M968.99 1728.1v-6M991.54 1728.1v-6M1014.08 1728.1v-6M1036.63 1728.1v-6M1059.17 1728.1v-6M1081.72 1728.1v-6M1104.27 1728.1v-6M1126.81 1728.1v-6M1149.36 1728.1v-6M1171.9 1728.1v-6M1194.45 1728.1v-6M1217 1728.1v-6M1239.54 1728.1v-6M1262.09 1728.1v-6M1284.63 1728.1v-6M1307.18 1728.1v-6M1329.72 1728.1v-6M1352.27 1728.1v-6M1374.82 1728.1v-6M1397.36 1728.1v-6M1419.91 1728.1v-6M1442.45 1728.1v-6M1465 1728.1v-6" stroke="#231f20" stroke-width="2.2" fill="none"/>
<text x="903.9" y="1737.1" text-anchor="end" class="t">0</text>
<text x="903.9" y="1665.97" text-anchor="end" class="t">10</text>
<text x="903.9" y="1594.84" text-anchor="end" class="t">20</text>
<text x="903.9" y="1523.71" text-anchor="end" class="t">30</text>
<text x="903.9" y="1452.59" text-anchor="end" class="t">40</text>
<text x="903.9" y="1381.46" text-anchor="end" class="t">50</text>
<text x="903.9" y="1310.33" text-anchor="end" class="t">60</text>
<text x="903.9" y="1239.2" text-anchor="end" class="t">70</text>
<text transform="translate(943.77 1744.1) rotate(-90)" text-anchor="end" class="t">7:00</text>
<text transform="translate(989.04 1744.1) rotate(-90)" text-anchor="end" class="t">9:00</text>
<text transform="translate(1034.32 1744.1) rotate(-90)" text-anchor="end" class="t">11:00</text>
<text transform="translate(1079.59 1744.1) rotate(-90)" text-anchor="end" class="t">13:00</text>
<text transform="translate(1124.86 1744.1) rotate(-90)" text-anchor="end" class="t">15:00</text>
<text transform="translate(1170.13 1744.1) rotate(-90)" text-anchor="end" class="t">17:00</text>
<text transform="translate(1215.4 1744.1) rotate(-90)" text-anchor="end" class="t">19:00</text>
<text transform="translate(1260.67 1744.1) rotate(-90)" text-anchor="end" class="t">21:00</text>
<text transform="translate(1305.95 1744.1) rotate(-90)" text-anchor="end" class="t">23:00</text>
<text transform="translate(1351.22 1744.1) rotate(-90)" text-anchor="end" class="t">1:00</text>
<text transform="translate(1396.49 1744.1) rotate(-90)" text-anchor="end" class="t">3:00</text>
<text transform="translate(1441.76 1744.1) rotate(-90)" text-anchor="end" class="t">5:00</text>
<path d="M934.87 1540.32V1570.77M928.37 1540.32h13M928.37 1570.77h13M957.42 1419.46V1438.49M950.92 1419.46h13M950.92 1438.49h13M979.96 1373.78V1392.81M973.46 1373.78h13M973.46 1392.81h13M1002.51 1353.98V1377.58M996.01 1353.98h13M996.01 1377.58h13M1025.06 1347.51V1362.74M1018.56 1347.51h13M1018.56 1362.74h13M1047.6 1336.28V1357.22M1041.1 1336.28h13M1041.1 1357.22h13M1070.15 1338.76V1358.55M1063.65 1338.76h13M1063.65 1358.55h13M1092.69 1360.45V1385.2M1086.19 1360.45h13M1086.19 1385.2h13M1115.24 1419.07V1434.3M1108.74 1419.07h13M1108.74 1434.3h13M1137.79 1552.31V1571.34M1131.29 1552.31h13M1131.29 1571.34h13M1160.33 1662.13V1681.16M1153.83 1662.13h13M1153.83 1681.16h13M1182.88 1685.54V1695.06M1176.38 1685.54h13M1176.38 1695.06h13M1205.42 1592.66V1613.59M1198.92 1592.66h13M1198.92 1613.59h13M1227.97 1408.99V1429.92M1221.47 1408.99h13M1221.47 1429.92h13M1250.51 1348.08V1357.6M1244.01 1348.08h13M1244.01 1357.6h13M1273.06 1354.36V1369.59M1266.56 1354.36h13M1266.56 1369.59h13M1295.61 1366.16V1383.29M1289.11 1366.16h13M1289.11 1383.29h13M1318.15 1369.02V1384.24M1311.65 1369.02h13M1311.65 1384.24h13M1340.7 1375.68V1394.71M1334.2 1375.68h13M1334.2 1394.71h13M1363.24 1382.34V1397.57M1356.74 1382.34h13M1356.74 1397.57h13M1385.79 1379.49V1398.52M1379.29 1379.49h13M1379.29 1398.52h13M1408.34 1385.2V1406.13M1401.84 1385.2h13M1401.84 1406.13h13M1430.88 1418.5V1439.44M1424.38 1418.5h13M1424.38 1439.44h13M1453.43 1505.1V1531.75M1446.93 1505.1h13M1446.93 1531.75h13" stroke="#231f20" stroke-width="1.4" fill="none"/>
<path d="M934.87 1536.89V1595.89M928.37 1536.89h13M928.37 1595.89h13M957.42 1435.63V1490.83M950.92 1435.63h13M950.92 1490.83h13M979.96 1420.41V1462.28M973.46 1420.41h13M973.46 1462.28h13M1002.51 1426.12V1452.76M996.01 1426.12h13M996.01 1452.76h13M1025.06 1409.18V1428.97M1018.56 1409.18h13M1018.56 1428.97h13M1047.6 1392.62V1417.74M1041.1 1392.62h13M1041.1 1417.74h13M1070.15 1396.43V1417.74M1063.65 1396.43h13M1063.65 1417.74h13M1092.69 1414.13V1426.69M1086.19 1414.13h13M1086.19 1426.69h13M1115.24 1419.84V1454.1M1108.74 1419.84h13M1108.74 1454.1h13M1137.79 1487.02V1528.9M1131.29 1487.02h13M1131.29 1528.9h13M1160.33 1586V1631.67M1153.83 1586h13M1153.83 1631.67h13M1182.88 1684.97V1696.39M1176.38 1684.97h13M1176.38 1696.39h13M1205.42 1657.37V1674.5M1198.92 1657.37h13M1198.92 1674.5h13M1227.97 1478.08V1516.14M1221.47 1478.08h13M1221.47 1516.14h13M1250.51 1408.04V1444.2M1244.01 1408.04h13M1244.01 1444.2h13M1273.06 1417.55V1448.01M1266.56 1417.55h13M1266.56 1448.01h13M1295.61 1430.88V1465.14M1289.11 1430.88h13M1289.11 1465.14h13M1318.15 1438.11V1471.23M1311.65 1438.11h13M1311.65 1471.23h13M1340.7 1422.69V1451.24M1334.2 1422.69h13M1334.2 1451.24h13M1363.24 1427.64V1460M1356.74 1427.64h13M1356.74 1460h13M1385.79 1445.34V1472.75M1379.29 1445.34h13M1379.29 1472.75h13M1408.34 1466.09V1498.44M1401.84 1466.09h13M1401.84 1498.44h13M1430.88 1501.3V1537.46M1424.38 1501.3h13M1424.38 1537.46h13M1453.43 1516.52V1539.36M1446.93 1516.52h13M1446.93 1539.36h13" stroke="#231f20" stroke-width="1.4" fill="none"/>
<path d="M934.87 1414.13V1426.69M928.37 1414.13h13M928.37 1426.69h13M957.42 1392.81V1411.84M950.92 1392.81h13M950.92 1411.84h13M979.96 1392.81V1408.04M973.46 1392.81h13M973.46 1408.04h13M1002.51 1397.57V1416.6M996.01 1397.57h13M996.01 1416.6h13M1025.06 1418.5V1435.63M1018.56 1418.5h13M1018.56 1435.63h13M1047.6 1439.44V1473.7M1041.1 1439.44h13M1041.1 1473.7h13M1070.15 1453.72V1510.81M1063.65 1453.72h13M1063.65 1510.81h13M1092.69 1511.77V1572.67M1086.19 1511.77h13M1086.19 1572.67h13M1115.24 1533.65V1600.27M1108.74 1533.65h13M1108.74 1600.27h13M1137.79 1563.16V1625.96M1131.29 1563.16h13M1131.29 1625.96h13M1160.33 1564.11V1621.21M1153.83 1564.11h13M1153.83 1621.21h13M1182.88 1592.66V1647.85M1176.38 1592.66h13M1176.38 1647.85h13M1205.42 1560.3V1617.4M1198.92 1560.3h13M1198.92 1617.4h13M1227.97 1512.72V1562.2M1221.47 1512.72h13M1221.47 1562.2h13M1250.51 1448.01V1497.49M1244.01 1448.01h13M1244.01 1497.49h13M1273.06 1424.21V1452.76M1266.56 1424.21h13M1266.56 1452.76h13M1295.61 1379.49V1396.62M1289.11 1379.49h13M1289.11 1396.62h13M1318.15 1372.63V1387.1M1311.65 1372.63h13M1311.65 1387.1h13M1340.7 1357.6V1382.34M1334.2 1357.6h13M1334.2 1382.34h13M1363.24 1360.45V1379.49M1356.74 1360.45h13M1356.74 1379.49h13M1385.79 1375.68V1392.81M1379.29 1375.68h13M1379.29 1392.81h13M1408.34 1399.47V1414.7M1401.84 1399.47h13M1401.84 1414.7h13M1430.88 1418.5V1441.34M1424.38 1418.5h13M1424.38 1441.34h13M1453.43 1412.22V1423.64M1446.93 1412.22h13M1446.93 1423.64h13" stroke="#231f20" stroke-width="1.4" fill="none"/>
<path d="M934.87 1464.18V1496.54M928.37 1464.18h13M928.37 1496.54h13M957.42 1437.54V1460.38M950.92 1437.54h13M950.92 1460.38h13M979.96 1433.73V1466.09M973.46 1433.73h13M973.46 1466.09h13M1002.51 1438.49V1467.04M996.01 1438.49h13M996.01 1467.04h13M1025.06 1445.53V1473.32M1018.56 1445.53h13M1018.56 1473.32h13M1047.6 1457.52V1491.78M1041.1 1457.52h13M1041.1 1491.78h13M1070.15 1490.83V1523.19M1063.65 1490.83h13M1063.65 1523.19h13M1092.69 1493.3V1545.45M1086.19 1493.3h13M1086.19 1545.45h13M1115.24 1512.72V1564.11M1108.74 1512.72h13M1108.74 1564.11h13M1137.79 1513.67V1563.16M1131.29 1513.67h13M1131.29 1563.16h13M1160.33 1513.67V1589.8M1153.83 1513.67h13M1153.83 1589.8h13M1182.88 1540.32V1610.74M1176.38 1540.32h13M1176.38 1610.74h13M1205.42 1556.49V1594.56M1198.92 1556.49h13M1198.92 1594.56h13M1227.97 1518.43V1577.43M1221.47 1518.43h13M1221.47 1577.43h13M1250.51 1478.46V1518.43M1244.01 1478.46h13M1244.01 1518.43h13M1273.06 1464.18V1498.44M1266.56 1464.18h13M1266.56 1498.44h13M1295.61 1436.59V1459.43M1289.11 1436.59h13M1289.11 1459.43h13M1318.15 1426.12V1445.15M1311.65 1426.12h13M1311.65 1445.15h13M1340.7 1401.37V1429.92M1334.2 1401.37h13M1334.2 1429.92h13M1363.24 1404.23V1432.78M1356.74 1404.23h13M1356.74 1432.78h13M1385.79 1419.46V1438.49M1379.29 1419.46h13M1379.29 1438.49h13M1408.34 1435.63V1473.7M1401.84 1435.63h13M1401.84 1473.7h13M1430.88 1455.62V1487.97M1424.38 1455.62h13M1424.38 1487.97h13M1453.43 1461.33V1482.26M1446.93 1461.33h13M1446.93 1482.26h13" stroke="#231f20" stroke-width="1.4" fill="none"/>
<path d="M932.87 1555.54L955.42 1428.97L977.96 1383.29L1000.51 1365.78L1023.06 1355.12L1045.6 1346.75L1068.15 1348.65L1090.69 1372.82L1113.24 1426.69L1135.79 1561.82L1158.33 1671.64L1180.88 1690.3L1203.42 1603.13L1225.97 1419.46L1248.51 1352.84L1271.06 1361.98L1293.61 1374.73L1316.15 1376.63L1338.7 1385.2L1361.24 1389.95L1383.79 1389L1406.34 1395.66L1428.88 1428.97L1451.43 1518.43" stroke="#231f20" stroke-width="2.0" fill="none" stroke-linejoin="round"/>
<circle cx="932.87" cy="1555.54" r="5" fill="#231f20"/>
<circle cx="955.42" cy="1428.97" r="5" fill="#231f20"/>
<circle cx="977.96" cy="1383.29" r="5" fill="#231f20"/>
<circle cx="1000.51" cy="1365.78" r="5" fill="#231f20"/>
<circle cx="1023.06" cy="1355.12" r="5" fill="#231f20"/>
<circle cx="1045.6" cy="1346.75" r="5" fill="#231f20"/>
<circle cx="1068.15" cy="1348.65" r="5" fill="#231f20"/>
<circle cx="1090.69" cy="1372.82" r="5" fill="#231f20"/>
<circle cx="1113.24" cy="1426.69" r="5" fill="#231f20"/>
<circle cx="1135.79" cy="1561.82" r="5" fill="#231f20"/>
<circle cx="1158.33" cy="1671.64" r="5" fill="#231f20"/>
<circle cx="1180.88" cy="1690.3" r="5" fill="#231f20"/>
<circle cx="1203.42" cy="1603.13" r="5" fill="#231f20"/>
<circle cx="1225.97" cy="1419.46" r="5" fill="#231f20"/>
<circle cx="1248.51" cy="1352.84" r="5" fill="#231f20"/>
<circle cx="1271.06" cy="1361.98" r="5" fill="#231f20"/>
<circle cx="1293.61" cy="1374.73" r="5" fill="#231f20"/>
<circle cx="1316.15" cy="1376.63" r="5" fill="#231f20"/>
<circle cx="1338.7" cy="1385.2" r="5" fill="#231f20"/>
<circle cx="1361.24" cy="1389.95" r="5" fill="#231f20"/>
<circle cx="1383.79" cy="1389" r="5" fill="#231f20"/>
<circle cx="1406.34" cy="1395.66" r="5" fill="#231f20"/>
<circle cx="1428.88" cy="1428.97" r="5" fill="#231f20"/>
<circle cx="1451.43" cy="1518.43" r="5" fill="#231f20"/>
<path d="M932.87 1566.39L955.42 1463.23L977.96 1441.34L1000.51 1439.44L1023.06 1419.07L1045.6 1405.18L1068.15 1407.08L1090.69 1420.41L1113.24 1436.97L1135.79 1507.96L1158.33 1608.84L1180.88 1690.68L1203.42 1665.93L1225.97 1497.11L1248.51 1426.12L1271.06 1432.78L1293.61 1448.01L1316.15 1454.67L1338.7 1436.97L1361.24 1443.82L1383.79 1459.04L1406.34 1482.26L1428.88 1519.38L1451.43 1527.94" stroke="#e8232b" stroke-width="2.0" fill="none" stroke-linejoin="round"/>
<circle cx="932.87" cy="1566.39" r="5" fill="#e8232b"/>
<circle cx="955.42" cy="1463.23" r="5" fill="#e8232b"/>
<circle cx="977.96" cy="1441.34" r="5" fill="#e8232b"/>
<circle cx="1000.51" cy="1439.44" r="5" fill="#e8232b"/>
<circle cx="1023.06" cy="1419.07" r="5" fill="#e8232b"/>
<circle cx="1045.6" cy="1405.18" r="5" fill="#e8232b"/>
<circle cx="1068.15" cy="1407.08" r="5" fill="#e8232b"/>
<circle cx="1090.69" cy="1420.41" r="5" fill="#e8232b"/>
<circle cx="1113.24" cy="1436.97" r="5" fill="#e8232b"/>
<circle cx="1135.79" cy="1507.96" r="5" fill="#e8232b"/>
<circle cx="1158.33" cy="1608.84" r="5" fill="#e8232b"/>
<circle cx="1180.88" cy="1690.68" r="5" fill="#e8232b"/>
<circle cx="1203.42" cy="1665.93" r="5" fill="#e8232b"/>
<circle cx="1225.97" cy="1497.11" r="5" fill="#e8232b"/>
<circle cx="1248.51" cy="1426.12" r="5" fill="#e8232b"/>
<circle cx="1271.06" cy="1432.78" r="5" fill="#e8232b"/>
<circle cx="1293.61" cy="1448.01" r="5" fill="#e8232b"/>
<circle cx="1316.15" cy="1454.67" r="5" fill="#e8232b"/>
<circle cx="1338.7" cy="1436.97" r="5" fill="#e8232b"/>
<circle cx="1361.24" cy="1443.82" r="5" fill="#e8232b"/>
<circle cx="1383.79" cy="1459.04" r="5" fill="#e8232b"/>
<circle cx="1406.34" cy="1482.26" r="5" fill="#e8232b"/>
<circle cx="1428.88" cy="1519.38" r="5" fill="#e8232b"/>
<circle cx="1451.43" cy="1527.94" r="5" fill="#e8232b"/>
<path d="M934.87 1420.41L957.42 1402.33L979.96 1400.42L1002.51 1407.08L1025.06 1427.07L1047.6 1456.57L1070.15 1482.26L1092.69 1542.22L1115.24 1566.96L1137.79 1594.56L1160.33 1592.66L1182.88 1620.26L1205.42 1588.85L1227.97 1537.46L1250.51 1472.75L1273.06 1438.49L1295.61 1388.05L1318.15 1379.87L1340.7 1369.97L1363.24 1369.97L1385.79 1384.24L1408.34 1407.08L1430.88 1429.92L1453.43 1417.93" stroke="#231f20" stroke-width="2.0" fill="none" stroke-linejoin="round"/>
<path d="M934.87 1415.31L939.97 1425.21H929.77Z" fill="#231f20"/>
<path d="M957.42 1397.23L962.52 1407.13H952.32Z" fill="#231f20"/>
<path d="M979.96 1395.32L985.06 1405.22H974.86Z" fill="#231f20"/>
<path d="M1002.51 1401.98L1007.61 1411.88H997.41Z" fill="#231f20"/>
<path d="M1025.06 1421.97L1030.16 1431.87H1019.96Z" fill="#231f20"/>
<path d="M1047.6 1451.47L1052.7 1461.37H1042.5Z" fill="#231f20"/>
<path d="M1070.15 1477.16L1075.25 1487.06H1065.05Z" fill="#231f20"/>
<path d="M1092.69 1537.12L1097.79 1547.02H1087.59Z" fill="#231f20"/>
<path d="M1115.24 1561.86L1120.34 1571.76H1110.14Z" fill="#231f20"/>
<path d="M1137.79 1589.46L1142.89 1599.36H1132.69Z" fill="#231f20"/>
<path d="M1160.33 1587.56L1165.43 1597.46H1155.23Z" fill="#231f20"/>
<path d="M1182.88 1615.16L1187.98 1625.06H1177.78Z" fill="#231f20"/>
<path d="M1205.42 1583.75L1210.52 1593.65H1200.32Z" fill="#231f20"/>
<path d="M1227.97 1532.36L1233.07 1542.26H1222.87Z" fill="#231f20"/>
<path d="M1250.51 1467.65L1255.61 1477.55H1245.41Z" fill="#231f20"/>
<path d="M1273.06 1433.39L1278.16 1443.29H1267.96Z" fill="#231f20"/>
<path d="M1295.61 1382.95L1300.71 1392.85H1290.51Z" fill="#231f20"/>
<path d="M1318.15 1374.77L1323.25 1384.67H1313.05Z" fill="#231f20"/>
<path d="M1340.7 1364.87L1345.8 1374.77H1335.6Z" fill="#231f20"/>
<path d="M1363.24 1364.87L1368.34 1374.77H1358.14Z" fill="#231f20"/>
<path d="M1385.79 1379.14L1390.89 1389.04H1380.69Z" fill="#231f20"/>
<path d="M1408.34 1401.98L1413.44 1411.88H1403.24Z" fill="#231f20"/>
<path d="M1430.88 1424.82L1435.98 1434.72H1425.78Z" fill="#231f20"/>
<path d="M1453.43 1412.83L1458.53 1422.73H1448.33Z" fill="#231f20"/>
<path d="M934.87 1480.36L957.42 1448.96L979.96 1449.91L1002.51 1452.76L1025.06 1459.43L1047.6 1474.65L1070.15 1507.01L1092.69 1519.38L1115.24 1538.41L1137.79 1538.41L1160.33 1551.74L1182.88 1575.53L1205.42 1575.53L1227.97 1547.93L1250.51 1498.44L1273.06 1481.31L1295.61 1448.01L1318.15 1435.63L1340.7 1415.65L1363.24 1418.5L1385.79 1428.97L1408.34 1454.67L1430.88 1471.8L1453.43 1471.8" stroke="#e8232b" stroke-width="2.0" fill="none" stroke-linejoin="round"/>
<path d="M934.87 1475.26L939.97 1485.16H929.77Z" fill="#e8232b"/>
<path d="M957.42 1443.86L962.52 1453.76H952.32Z" fill="#e8232b"/>
<path d="M979.96 1444.81L985.06 1454.71H974.86Z" fill="#e8232b"/>
<path d="M1002.51 1447.66L1007.61 1457.56H997.41Z" fill="#e8232b"/>
<path d="M1025.06 1454.33L1030.16 1464.23H1019.96Z" fill="#e8232b"/>
<path d="M1047.6 1469.55L1052.7 1479.45H1042.5Z" fill="#e8232b"/>
<path d="M1070.15 1501.91L1075.25 1511.81H1065.05Z" fill="#e8232b"/>
<path d="M1092.69 1514.28L1097.79 1524.18H1087.59Z" fill="#e8232b"/>
<path d="M1115.24 1533.31L1120.34 1543.21H1110.14Z" fill="#e8232b"/>
<path d="M1137.79 1533.31L1142.89 1543.21H1132.69Z" fill="#e8232b"/>
<path d="M1160.33 1546.64L1165.43 1556.54H1155.23Z" fill="#e8232b"/>
<path d="M1182.88 1570.43L1187.98 1580.33H1177.78Z" fill="#e8232b"/>
<path d="M1205.42 1570.43L1210.52 1580.33H1200.32Z" fill="#e8232b"/>
<path d="M1227.97 1542.83L1233.07 1552.73H1222.87Z" fill="#e8232b"/>
<path d="M1250.51 1493.34L1255.61 1503.24H1245.41Z" fill="#e8232b"/>
<path d="M1273.06 1476.21L1278.16 1486.11H1267.96Z" fill="#e8232b"/>
<path d="M1295.61 1442.91L1300.71 1452.81H1290.51Z" fill="#e8232b"/>
<path d="M1318.15 1430.53L1323.25 1440.43H1313.05Z" fill="#e8232b"/>
<path d="M1340.7 1410.55L1345.8 1420.45H1335.6Z" fill="#e8232b"/>
<path d="M1363.24 1413.4L1368.34 1423.3H1358.14Z" fill="#e8232b"/>
<path d="M1385.79 1423.87L1390.89 1433.77H1380.69Z" fill="#e8232b"/>
<path d="M1408.34 1449.57L1413.44 1459.47H1403.24Z" fill="#e8232b"/>
<path d="M1430.88 1466.7L1435.98 1476.6H1425.78Z" fill="#e8232b"/>
<path d="M1453.43 1466.7L1458.53 1476.6H1448.33Z" fill="#e8232b"/>
<path d="M1110.6 1239.4h57" stroke="#231f20" stroke-width="1.9"/>
<circle cx="1138.6" cy="1238.4" r="4.9" fill="#231f20"/>
<text x="1175.1" y="1247.6" class="lg">LD-Control</text>
<path d="M1110.6 1288.7h57" stroke="#231f20" stroke-width="1.9"/>
<path d="M1139.6 1284.1L1144.5 1293.9H1134.7Z" fill="#231f20"/>
<text x="1175.1" y="1296.9" class="lg">DD-Control</text>
<path d="M1306.7 1239.4h57" stroke="#e8232b" stroke-width="1.9"/>
<circle cx="1334.7" cy="1238.4" r="4.9" fill="#e8232b"/>
<text x="1371.2" y="1247.6" class="lg">LD-SM</text>
<path d="M1306.7 1288.7h57" stroke="#e8232b" stroke-width="1.9"/>
<path d="M1335.7 1284.1L1340.6 1293.9H1330.8Z" fill="#e8232b"/>
<text x="1371.2" y="1296.9" class="lg">DD-SM</text>
</g>
<g id="pg">
<text x="-1.5" y="1842.7" class="pl" letter-spacing="0.6">(g)</text>
<text transform="translate(39.5 2086) rotate(-90)" text-anchor="middle" class="yt">Activity (counts/h)</text>
<path d="M107.1 1835.4V2333H654.5" fill="none" stroke="#231f20" stroke-width="2.3" stroke-linejoin="round"/>
<path d="M107.1 2270.8h6M107.1 2208.6h6M107.1 2146.4h6M107.1 2084.2h6M107.1 2022h6M107.1 1959.8h6M107.1 1897.6h6M107.1 1835.4h6M129.91 2333v-6M152.72 2333v-6M175.52 2333v-6M198.33 2333v-6M221.14 2333v-6M243.95 2333v-6M266.76 2333v-6M289.57 2333v-6M312.38 2333v-6M335.18 2333v-6M357.99 2333v-6M380.8 2333v-6M403.61 2333v-6M426.42 2333v-6M449.23 2333v-6M472.03 2333v-6M494.84 2333v-6M517.65 2333v-6M540.46 2333v-6M563.27 2333v-6M586.08 2333v-6M608.88 2333v-6M631.69 2333v-6M654.5 2333v-6" stroke="#231f20" stroke-width="2.2" fill="none"/>
<text x="87.1" y="2342" text-anchor="end" class="t">0</text>
<text x="87.1" y="2279.8" text-anchor="end" class="t">20</text>
<text x="87.1" y="2217.6" text-anchor="end" class="t">40</text>
<text x="87.1" y="2155.4" text-anchor="end" class="t">60</text>
<text x="87.1" y="2093.2" text-anchor="end" class="t">80</text>
<text x="87.1" y="2031" text-anchor="end" class="t">100</text>
<text x="87.1" y="1968.8" text-anchor="end" class="t">120</text>
<text x="87.1" y="1906.6" text-anchor="end" class="t">140</text>
<text x="87.1" y="1844.4" text-anchor="end" class="t">160</text>
<text transform="translate(128.3 2349) rotate(-90)" text-anchor="end" class="t">7:00</text>
<text transform="translate(174.1 2349) rotate(-90)" text-anchor="end" class="t">9:00</text>
<text transform="translate(219.9 2349) rotate(-90)" text-anchor="end" class="t">11:00</text>
<text transform="translate(265.69 2349) rotate(-90)" text-anchor="end" class="t">13:00</text>
<text transform="translate(311.49 2349) rotate(-90)" text-anchor="end" class="t">15:00</text>
<text transform="translate(357.29 2349) rotate(-90)" text-anchor="end" class="t">17:00</text>
<text transform="translate(403.08 2349) rotate(-90)" text-anchor="end" class="t">19:00</text>
<text transform="translate(448.88 2349) rotate(-90)" text-anchor="end" class="t">21:00</text>
<text transform="translate(494.68 2349) rotate(-90)" text-anchor="end" class="t">23:00</text>
<text transform="translate(540.47 2349) rotate(-90)" text-anchor="end" class="t">1:00</text>
<text transform="translate(586.27 2349) rotate(-90)" text-anchor="end" class="t">3:00</text>
<text transform="translate(632.07 2349) rotate(-90)" text-anchor="end" class="t">5:00</text>
<path d="M120.1 2070.89V2099.44M113.6 2070.89h13M113.6 2099.44h13M142.91 2137.51V2162.25M136.41 2137.51h13M136.41 2162.25h13M165.72 2194.61V2215.54M159.22 2194.61h13M159.22 2215.54h13M188.53 2245.04V2260.27M182.03 2245.04h13M182.03 2260.27h13M211.34 2284.06V2291.67M204.84 2284.06h13M204.84 2291.67h13M234.15 2290.72V2302.14M227.65 2290.72h13M227.65 2302.14h13M256.95 2290.72V2302.14M250.45 2290.72h13M250.45 2302.14h13M279.76 2280.64V2291.29M273.26 2280.64h13M273.26 2291.29h13M302.57 2226.01V2250.75M296.07 2226.01h13M296.07 2250.75h13M325.38 2156.54V2175.57M318.88 2156.54h13M318.88 2175.57h13M348.19 2103.82V2126.66M341.69 2103.82h13M341.69 2126.66h13M371 2065.56V2087.64M364.5 2065.56h13M364.5 2087.64h13M393.8 2051.86V2088.02M387.3 2051.86h13M387.3 2088.02h13M416.61 2148.93V2188.9M410.11 2148.93h13M410.11 2188.9h13M439.42 2231.72V2265.98M432.92 2231.72h13M432.92 2265.98h13M462.23 2278.35V2289.77M455.73 2278.35h13M455.73 2289.77h13M485.04 2268.84V2284.06M478.54 2268.84h13M478.54 2284.06h13M507.85 2266.93V2282.16M501.35 2266.93h13M501.35 2282.16h13M530.65 2264.08V2273.59M524.15 2264.08h13M524.15 2273.59h13M553.46 2264.08V2273.59M546.96 2264.08h13M546.96 2273.59h13M576.27 2253.99V2264.65M569.77 2253.99h13M569.77 2264.65h13M599.08 2234.19V2261.6M592.58 2234.19h13M592.58 2261.6h13M621.89 2225.06V2236.48M615.39 2225.06h13M615.39 2236.48h13M644.7 2169.86V2181.28M638.2 2169.86h13M638.2 2181.28h13" stroke="#231f20" stroke-width="1.4" fill="none"/>
<path d="M120.1 2029.02V2072.03M113.6 2029.02h13M113.6 2072.03h13M142.91 2130.46V2160.92M136.41 2130.46h13M136.41 2160.92h13M165.72 2137.89V2165.68M159.22 2137.89h13M159.22 2165.68h13M188.53 2178.81V2197.84M182.03 2178.81h13M182.03 2197.84h13M211.34 2214.59V2231.72M204.84 2214.59h13M204.84 2231.72h13M234.15 2231.72V2248.85M227.65 2231.72h13M227.65 2248.85h13M256.95 2228.87V2247.9M250.45 2228.87h13M250.45 2247.9h13M279.76 2216.49V2246.95M273.26 2216.49h13M273.26 2246.95h13M302.57 2183.19V2209.83M296.07 2183.19h13M296.07 2209.83h13M325.38 2152.73V2175.57M318.88 2152.73h13M318.88 2175.57h13M348.19 2091.83V2116.57M341.69 2091.83h13M341.69 2116.57h13M371 1990.76V2024.26M364.5 1990.76h13M364.5 2024.26h13M393.8 1993.81V2012.84M387.3 1993.81h13M387.3 2012.84h13M416.61 2082.31V2105.15M410.11 2082.31h13M410.11 2105.15h13M439.42 2154.64V2188.9M432.92 2154.64h13M432.92 2188.9h13M462.23 2176.52V2201.27M455.73 2176.52h13M455.73 2201.27h13M485.04 2188.9V2209.83M478.54 2188.9h13M478.54 2209.83h13M507.85 2197.46V2214.59M501.35 2197.46h13M501.35 2214.59h13M530.65 2179.38V2198.41M524.15 2179.38h13M524.15 2198.41h13M553.46 2170.24V2194.23M546.96 2170.24h13M546.96 2194.23h13M576.27 2171.2V2195.18M569.77 2171.2h13M569.77 2195.18h13M599.08 2156.16V2181.66M592.58 2156.16h13M592.58 2181.66h13M621.89 2141.31V2158.44M615.39 2141.31h13M615.39 2158.44h13M644.7 2087.07V2112.95M638.2 2087.07h13M638.2 2112.95h13" stroke="#231f20" stroke-width="1.4" fill="none"/>
<path d="M120.1 2232.67V2253.61M113.6 2232.67h13M113.6 2253.61h13M142.91 2237.43V2258.37M136.41 2237.43h13M136.41 2258.37h13M165.72 2245.04V2258.37M159.22 2245.04h13M159.22 2258.37h13M188.53 2254.56V2265.98M182.03 2254.56h13M182.03 2265.98h13M211.34 2259.32V2268.84M204.84 2259.32h13M204.84 2268.84h13M234.15 2251.32V2265.41M227.65 2251.32h13M227.65 2265.41h13M256.95 2220.87V2248.28M250.45 2220.87h13M250.45 2248.28h13M279.76 2203.17V2227.91M273.26 2203.17h13M273.26 2227.91h13M302.57 2195.56V2229.82M296.07 2195.56h13M296.07 2229.82h13M325.38 2182.81V2208.31M318.88 2182.81h13M318.88 2208.31h13M348.19 2179.38V2211.74M341.69 2179.38h13M341.69 2211.74h13M371 2169.86V2192.7M364.5 2169.86h13M364.5 2192.7h13M393.8 2174.05V2203.74M387.3 2174.05h13M387.3 2203.74h13M416.61 2184.14V2201.27M410.11 2184.14h13M410.11 2201.27h13M439.42 2201.27V2220.3M432.92 2201.27h13M432.92 2220.3h13M462.23 2218.97V2244.47M455.73 2218.97h13M455.73 2244.47h13M485.04 2252.66V2271.69M478.54 2252.66h13M478.54 2271.69h13M507.85 2248.85V2269.79M501.35 2248.85h13M501.35 2269.79h13M530.65 2271.69V2281.21M524.15 2271.69h13M524.15 2281.21h13M553.46 2275.5V2283.11M546.96 2275.5h13M546.96 2283.11h13M576.27 2275.5V2283.11M569.77 2275.5h13M569.77 2283.11h13M599.08 2258.37V2269.79M592.58 2258.37h13M592.58 2269.79h13M621.89 2245.04V2262.17M615.39 2245.04h13M615.39 2262.17h13M644.7 2234.58V2255.51M638.2 2234.58h13M638.2 2255.51h13" stroke="#231f20" stroke-width="1.4" fill="none"/>
<path d="M120.1 2190.8V2236.48M113.6 2190.8h13M113.6 2236.48h13M142.91 2210.78V2271.69M136.41 2210.78h13M136.41 2271.69h13M165.72 2225.06V2276.45M159.22 2225.06h13M159.22 2276.45h13M188.53 2225.06V2265.03M182.03 2225.06h13M182.03 2265.03h13M211.34 2224.11V2277.4M204.84 2224.11h13M204.84 2277.4h13M234.15 2197.46V2248.85M227.65 2197.46h13M227.65 2248.85h13M256.95 2187.94V2237.43M250.45 2187.94h13M250.45 2237.43h13M279.76 2172.72V2222.2M273.26 2172.72h13M273.26 2222.2h13M302.57 2171.77V2225.06M296.07 2171.77h13M296.07 2225.06h13M325.38 2167.01V2224.11M318.88 2167.01h13M318.88 2224.11h13M348.19 2134.65V2199.36M341.69 2134.65h13M341.69 2199.36h13M371 2129.89V2179.38M364.5 2129.89h13M364.5 2179.38h13M393.8 2115.62V2176.52M387.3 2115.62h13M387.3 2176.52h13M416.61 2094.68V2109.91M410.11 2094.68h13M410.11 2109.91h13M439.42 2115.24V2129.32M432.92 2115.24h13M432.92 2129.32h13M462.23 2135.6V2147.02M455.73 2135.6h13M455.73 2147.02h13M485.04 2167.96V2179.38M478.54 2167.96h13M478.54 2179.38h13M507.85 2167.01V2197.46M501.35 2167.01h13M501.35 2197.46h13M530.65 2207.93V2217.45M524.15 2207.93h13M524.15 2217.45h13M553.46 2211.74V2221.25M546.96 2211.74h13M546.96 2221.25h13M576.27 2220.68V2259.89M569.77 2220.68h13M569.77 2259.89h13M599.08 2235.53V2269.79M592.58 2235.53h13M592.58 2269.79h13M621.89 2195.56V2243.14M615.39 2195.56h13M615.39 2243.14h13M644.7 2194.61V2240.29M638.2 2194.61h13M638.2 2240.29h13" stroke="#231f20" stroke-width="1.4" fill="none"/>
<path d="M118.1 2085.17L140.91 2149.88L163.72 2205.07L186.53 2252.66L209.34 2287.87L232.15 2296.43L254.95 2296.43L277.76 2285.96L300.57 2238.38L323.38 2166.06L346.19 2115.24L369 2076.6L391.8 2069.94L414.61 2168.91L437.42 2248.85L460.23 2284.06L483.04 2276.45L505.85 2274.55L528.65 2268.84L551.46 2268.84L574.27 2259.32L597.08 2247.9L619.89 2230.77L642.7 2175.57" stroke="#231f20" stroke-width="2.0" fill="none" stroke-linejoin="round"/>
<circle cx="118.1" cy="2085.17" r="5" fill="#231f20"/>
<circle cx="140.91" cy="2149.88" r="5" fill="#231f20"/>
<circle cx="163.72" cy="2205.07" r="5" fill="#231f20"/>
<circle cx="186.53" cy="2252.66" r="5" fill="#231f20"/>
<circle cx="209.34" cy="2287.87" r="5" fill="#231f20"/>
<circle cx="232.15" cy="2296.43" r="5" fill="#231f20"/>
<circle cx="254.95" cy="2296.43" r="5" fill="#231f20"/>
<circle cx="277.76" cy="2285.96" r="5" fill="#231f20"/>
<circle cx="300.57" cy="2238.38" r="5" fill="#231f20"/>
<circle cx="323.38" cy="2166.06" r="5" fill="#231f20"/>
<circle cx="346.19" cy="2115.24" r="5" fill="#231f20"/>
<circle cx="369" cy="2076.6" r="5" fill="#231f20"/>
<circle cx="391.8" cy="2069.94" r="5" fill="#231f20"/>
<circle cx="414.61" cy="2168.91" r="5" fill="#231f20"/>
<circle cx="437.42" cy="2248.85" r="5" fill="#231f20"/>
<circle cx="460.23" cy="2284.06" r="5" fill="#231f20"/>
<circle cx="483.04" cy="2276.45" r="5" fill="#231f20"/>
<circle cx="505.85" cy="2274.55" r="5" fill="#231f20"/>
<circle cx="528.65" cy="2268.84" r="5" fill="#231f20"/>
<circle cx="551.46" cy="2268.84" r="5" fill="#231f20"/>
<circle cx="574.27" cy="2259.32" r="5" fill="#231f20"/>
<circle cx="597.08" cy="2247.9" r="5" fill="#231f20"/>
<circle cx="619.89" cy="2230.77" r="5" fill="#231f20"/>
<circle cx="642.7" cy="2175.57" r="5" fill="#231f20"/>
<path d="M118.1 2050.53L140.91 2145.69L163.72 2151.78L186.53 2188.33L209.34 2223.16L232.15 2240.29L254.95 2238.38L277.76 2231.72L300.57 2196.51L323.38 2164.15L346.19 2104.2L369 2007.51L391.8 2003.32L414.61 2093.73L437.42 2171.77L460.23 2188.9L483.04 2199.36L505.85 2206.03L528.65 2188.9L551.46 2182.23L574.27 2183.19L597.08 2168.91L619.89 2149.88L642.7 2100.01" stroke="#e8232b" stroke-width="2.0" fill="none" stroke-linejoin="round"/>
<circle cx="118.1" cy="2050.53" r="5" fill="#e8232b"/>
<circle cx="140.91" cy="2145.69" r="5" fill="#e8232b"/>
<circle cx="163.72" cy="2151.78" r="5" fill="#e8232b"/>
<circle cx="186.53" cy="2188.33" r="5" fill="#e8232b"/>
<circle cx="209.34" cy="2223.16" r="5" fill="#e8232b"/>
<circle cx="232.15" cy="2240.29" r="5" fill="#e8232b"/>
<circle cx="254.95" cy="2238.38" r="5" fill="#e8232b"/>
<circle cx="277.76" cy="2231.72" r="5" fill="#e8232b"/>
<circle cx="300.57" cy="2196.51" r="5" fill="#e8232b"/>
<circle cx="323.38" cy="2164.15" r="5" fill="#e8232b"/>
<circle cx="346.19" cy="2104.2" r="5" fill="#e8232b"/>
<circle cx="369" cy="2007.51" r="5" fill="#e8232b"/>
<circle cx="391.8" cy="2003.32" r="5" fill="#e8232b"/>
<circle cx="414.61" cy="2093.73" r="5" fill="#e8232b"/>
<circle cx="437.42" cy="2171.77" r="5" fill="#e8232b"/>
<circle cx="460.23" cy="2188.9" r="5" fill="#e8232b"/>
<circle cx="483.04" cy="2199.36" r="5" fill="#e8232b"/>
<circle cx="505.85" cy="2206.03" r="5" fill="#e8232b"/>
<circle cx="528.65" cy="2188.9" r="5" fill="#e8232b"/>
<circle cx="551.46" cy="2182.23" r="5" fill="#e8232b"/>
<circle cx="574.27" cy="2183.19" r="5" fill="#e8232b"/>
<circle cx="597.08" cy="2168.91" r="5" fill="#e8232b"/>
<circle cx="619.89" cy="2149.88" r="5" fill="#e8232b"/>
<circle cx="642.7" cy="2100.01" r="5" fill="#e8232b"/>
<path d="M120.1 2243.14L142.91 2247.9L165.72 2251.71L188.53 2260.27L211.34 2264.08L234.15 2258.37L256.95 2234.58L279.76 2215.54L302.57 2212.69L325.38 2195.56L348.19 2195.56L371 2181.28L393.8 2188.9L416.61 2192.7L439.42 2210.78L462.23 2231.72L485.04 2262.17L507.85 2259.32L530.65 2276.45L553.46 2279.3L576.27 2279.3L599.08 2264.08L621.89 2253.61L644.7 2245.04" stroke="#231f20" stroke-width="2.0" fill="none" stroke-linejoin="round"/>
<path d="M120.1 2238.04L125.2 2247.94H115Z" fill="#231f20"/>
<path d="M142.91 2242.8L148.01 2252.7H137.81Z" fill="#231f20"/>
<path d="M165.72 2246.61L170.82 2256.51H160.62Z" fill="#231f20"/>
<path d="M188.53 2255.17L193.63 2265.07H183.43Z" fill="#231f20"/>
<path d="M211.34 2258.98L216.44 2268.88H206.24Z" fill="#231f20"/>
<path d="M234.15 2253.27L239.25 2263.17H229.05Z" fill="#231f20"/>
<path d="M256.95 2229.48L262.05 2239.38H251.85Z" fill="#231f20"/>
<path d="M279.76 2210.44L284.86 2220.34H274.66Z" fill="#231f20"/>
<path d="M302.57 2207.59L307.67 2217.49H297.47Z" fill="#231f20"/>
<path d="M325.38 2190.46L330.48 2200.36H320.28Z" fill="#231f20"/>
<path d="M348.19 2190.46L353.29 2200.36H343.09Z" fill="#231f20"/>
<path d="M371 2176.18L376.1 2186.08H365.9Z" fill="#231f20"/>
<path d="M393.8 2183.8L398.9 2193.7H388.7Z" fill="#231f20"/>
<path d="M416.61 2187.6L421.71 2197.5H411.51Z" fill="#231f20"/>
<path d="M439.42 2205.68L444.52 2215.58H434.32Z" fill="#231f20"/>
<path d="M462.23 2226.62L467.33 2236.52H457.13Z" fill="#231f20"/>
<path d="M485.04 2257.07L490.14 2266.97H479.94Z" fill="#231f20"/>
<path d="M507.85 2254.22L512.95 2264.12H502.75Z" fill="#231f20"/>
<path d="M530.65 2271.35L535.75 2281.25H525.55Z" fill="#231f20"/>
<path d="M553.46 2274.2L558.56 2284.1H548.36Z" fill="#231f20"/>
<path d="M576.27 2274.2L581.37 2284.1H571.17Z" fill="#231f20"/>
<path d="M599.08 2258.98L604.18 2268.88H593.98Z" fill="#231f20"/>
<path d="M621.89 2248.51L626.99 2258.41H616.79Z" fill="#231f20"/>
<path d="M644.7 2239.94L649.8 2249.84H639.6Z" fill="#231f20"/>
<path d="M120.1 2213.64L142.91 2241.24L165.72 2250.75L188.53 2245.04L211.34 2250.75L234.15 2223.16L256.95 2212.69L279.76 2197.46L302.57 2198.41L325.38 2195.56L348.19 2167.01L371 2154.64L393.8 2146.07L416.61 2102.3L439.42 2122.28L462.23 2141.31L485.04 2173.67L507.85 2182.23L530.65 2212.69L553.46 2216.49L576.27 2240.29L599.08 2252.66L621.89 2219.35L644.7 2217.45" stroke="#e8232b" stroke-width="2.0" fill="none" stroke-linejoin="round"/>
<path d="M120.1 2208.54L125.2 2218.44H115Z" fill="#e8232b"/>
<path d="M142.91 2236.14L148.01 2246.04H137.81Z" fill="#e8232b"/>
<path d="M165.72 2245.65L170.82 2255.55H160.62Z" fill="#e8232b"/>
<path d="M188.53 2239.94L193.63 2249.84H183.43Z" fill="#e8232b"/>
<path d="M211.34 2245.65L216.44 2255.55H206.24Z" fill="#e8232b"/>
<path d="M234.15 2218.06L239.25 2227.96H229.05Z" fill="#e8232b"/>
<path d="M256.95 2207.59L262.05 2217.49H251.85Z" fill="#e8232b"/>
<path d="M279.76 2192.36L284.86 2202.26H274.66Z" fill="#e8232b"/>
<path d="M302.57 2193.31L307.67 2203.21H297.47Z" fill="#e8232b"/>
<path d="M325.38 2190.46L330.48 2200.36H320.28Z" fill="#e8232b"/>
<path d="M348.19 2161.91L353.29 2171.81H343.09Z" fill="#e8232b"/>
<path d="M371 2149.54L376.1 2159.44H365.9Z" fill="#e8232b"/>
<path d="M393.8 2140.97L398.9 2150.87H388.7Z" fill="#e8232b"/>
<path d="M416.61 2097.2L421.71 2107.1H411.51Z" fill="#e8232b"/>
<path d="M439.42 2117.18L444.52 2127.08H434.32Z" fill="#e8232b"/>
<path d="M462.23 2136.21L467.33 2146.11H457.13Z" fill="#e8232b"/>
<path d="M485.04 2168.57L490.14 2178.47H479.94Z" fill="#e8232b"/>
<path d="M507.85 2177.13L512.95 2187.03H502.75Z" fill="#e8232b"/>
<path d="M530.65 2207.59L535.75 2217.49H525.55Z" fill="#e8232b"/>
<path d="M553.46 2211.39L558.56 2221.29H548.36Z" fill="#e8232b"/>
<path d="M576.27 2235.19L581.37 2245.09H571.17Z" fill="#e8232b"/>
<path d="M599.08 2247.56L604.18 2257.46H593.98Z" fill="#e8232b"/>
<path d="M621.89 2214.25L626.99 2224.15H616.79Z" fill="#e8232b"/>
<path d="M644.7 2212.35L649.8 2222.25H639.6Z" fill="#e8232b"/>
<path d="M295.8 1844.4h57" stroke="#231f20" stroke-width="1.9"/>
<circle cx="323.8" cy="1843.4" r="4.9" fill="#231f20"/>
<text x="359.2" y="1852.6" class="lg">LD-Control</text>
<path d="M295.8 1893.7h57" stroke="#231f20" stroke-width="1.9"/>
<path d="M324.8 1889.1L329.7 1898.9H319.9Z" fill="#231f20"/>
<text x="359.2" y="1901.9" class="lg">DD-Control</text>
<path d="M492 1844.4h57" stroke="#e8232b" stroke-width="1.9"/>
<circle cx="520" cy="1843.4" r="4.9" fill="#e8232b"/>
<text x="555.4" y="1852.6" class="lg">LD-SM</text>
<path d="M492 1893.7h57" stroke="#e8232b" stroke-width="1.9"/>
<path d="M521 1889.1L525.9 1898.9H516.1Z" fill="#e8232b"/>
<text x="555.4" y="1901.9" class="lg">DD-SM</text>
</g>
<g id="ph">
<text x="813" y="1842.5" class="pl" letter-spacing="0.6">(h)</text>
<text transform="translate(862.8 2084.05) rotate(-90)" text-anchor="middle" class="yt2">Sleep (min)</text>
<path d="M921.9 1835.2V2332.9H1469" fill="none" stroke="#231f20" stroke-width="2.3" stroke-linejoin="round"/>
<path d="M921.9 2261.8h6M921.9 2190.7h6M921.9 2119.6h6M921.9 2048.5h6M921.9 1977.4h6M921.9 1906.3h6M921.9 1835.2h6M944.7 2332.9v-6M967.49 2332.9v-6M990.29 2332.9v-6M1013.08 2332.9v-6M1035.88 2332.9v-6M1058.67 2332.9v-6M1081.47 2332.9v-6M1104.27 2332.9v-6M1127.06 2332.9v-6M1149.86 2332.9v-6M1172.65 2332.9v-6M1195.45 2332.9v-6M1218.25 2332.9v-6M1241.04 2332.9v-6M1263.84 2332.9v-6M1286.63 2332.9v-6M1309.43 2332.9v-6M1332.22 2332.9v-6M1355.02 2332.9v-6M1377.82 2332.9v-6M1400.61 2332.9v-6M1423.41 2332.9v-6M1446.2 2332.9v-6M1469 2332.9v-6" stroke="#231f20" stroke-width="2.2" fill="none"/>
<text x="901.9" y="2341.9" text-anchor="end" class="t">0</text>
<text x="901.9" y="2270.8" text-anchor="end" class="t">10</text>
<text x="901.9" y="2199.7" text-anchor="end" class="t">20</text>
<text x="901.9" y="2128.6" text-anchor="end" class="t">30</text>
<text x="901.9" y="2057.5" text-anchor="end" class="t">40</text>
<text x="901.9" y="1986.4" text-anchor="end" class="t">50</text>
<text x="901.9" y="1915.3" text-anchor="end" class="t">60</text>
<text x="901.9" y="1844.2" text-anchor="end" class="t">70</text>
<text transform="translate(941.9 2348.9) rotate(-90)" text-anchor="end" class="t">7:00</text>
<text transform="translate(987.67 2348.9) rotate(-90)" text-anchor="end" class="t">9:00</text>
<text transform="translate(1033.44 2348.9) rotate(-90)" text-anchor="end" class="t">11:00</text>
<text transform="translate(1079.21 2348.9) rotate(-90)" text-anchor="end" class="t">13:00</text>
<text transform="translate(1124.98 2348.9) rotate(-90)" text-anchor="end" class="t">15:00</text>
<text transform="translate(1170.76 2348.9) rotate(-90)" text-anchor="end" class="t">17:00</text>
<text transform="translate(1216.53 2348.9) rotate(-90)" text-anchor="end" class="t">19:00</text>
<text transform="translate(1262.3 2348.9) rotate(-90)" text-anchor="end" class="t">21:00</text>
<text transform="translate(1308.07 2348.9) rotate(-90)" text-anchor="end" class="t">23:00</text>
<text transform="translate(1353.84 2348.9) rotate(-90)" text-anchor="end" class="t">1:00</text>
<text transform="translate(1399.61 2348.9) rotate(-90)" text-anchor="end" class="t">3:00</text>
<text transform="translate(1445.39 2348.9) rotate(-90)" text-anchor="end" class="t">5:00</text>
<path d="M933 2275.95V2298.79M926.5 2275.95h13M926.5 2298.79h13M955.79 2221.71V2257.87M949.29 2221.71h13M949.29 2257.87h13M978.59 2140.81V2178.88M972.09 2140.81h13M972.09 2178.88h13M1001.39 2059.92V2097.99M994.89 2059.92h13M994.89 2097.99h13M1024.18 2005.11V2018.43M1017.68 2005.11h13M1017.68 2018.43h13M1046.98 1977.13V1994.26M1040.48 1977.13h13M1040.48 1994.26h13M1069.77 1975.23V1992.36M1063.27 1975.23h13M1063.27 1992.36h13M1092.57 1998.07V2021.67M1086.07 1998.07h13M1086.07 2021.67h13M1115.36 2080.86V2107.51M1108.86 2080.86h13M1108.86 2107.51h13M1138.16 2198.87V2225.51M1131.66 2198.87h13M1131.66 2225.51h13M1160.96 2276.9V2297.84M1154.46 2276.9h13M1154.46 2297.84h13M1183.75 2294.98V2310.21M1177.25 2294.98h13M1177.25 2310.21h13M1206.55 2229.32V2263.58M1200.05 2229.32h13M1200.05 2263.58h13M1229.34 2119.88V2175.07M1222.84 2119.88h13M1222.84 2175.07h13M1252.14 2016.15V2067.54M1245.64 2016.15h13M1245.64 2067.54h13M1274.94 1985.12V2012.91M1268.44 1985.12h13M1268.44 2012.91h13M1297.73 2002.25V2020.53M1291.23 2002.25h13M1291.23 2020.53h13M1320.53 2002.63V2025.85M1314.03 2002.63h13M1314.03 2025.85h13M1343.32 2025.66V2033.28M1336.82 2025.66h13M1336.82 2033.28h13M1366.12 2026.24V2037.66M1359.62 2026.24h13M1359.62 2037.66h13M1388.91 2033.28V2050.41M1382.41 2033.28h13M1382.41 2050.41h13M1411.71 2061.83V2078.96M1405.21 2061.83h13M1405.21 2078.96h13M1434.51 2081.81V2112.26M1428.01 2081.81h13M1428.01 2112.26h13M1457.3 2170.32V2189.35M1450.8 2170.32h13M1450.8 2189.35h13" stroke="#231f20" stroke-width="1.4" fill="none"/>
<path d="M933 2259.77V2271.19M926.5 2259.77h13M926.5 2271.19h13M955.79 2174.5V2210.67M949.29 2174.5h13M949.29 2210.67h13M978.59 2137.96V2177.93M972.09 2137.96h13M972.09 2177.93h13M1001.39 2101.8V2124.64M994.89 2101.8h13M994.89 2124.64h13M1024.18 2062.78V2081.81M1017.68 2062.78h13M1017.68 2081.81h13M1046.98 2038.99V2054.21M1040.48 2038.99h13M1040.48 2054.21h13M1069.77 2034.8V2070.96M1063.27 2034.8h13M1063.27 2070.96h13M1092.57 2037.46V2086.19M1086.07 2037.46h13M1086.07 2086.19h13M1115.36 2081.81V2127.49M1108.86 2081.81h13M1108.86 2127.49h13M1138.16 2113.22V2164.61M1131.66 2113.22h13M1131.66 2164.61h13M1160.96 2180.78V2222.66M1154.46 2180.78h13M1154.46 2222.66h13M1183.75 2274.43V2296.51M1177.25 2274.43h13M1177.25 2296.51h13M1206.55 2298.22V2311.54M1200.05 2298.22h13M1200.05 2311.54h13M1229.34 2220.75V2251.21M1222.84 2220.75h13M1222.84 2251.21h13M1252.14 2112.26V2142.72M1245.64 2112.26h13M1245.64 2142.72h13M1274.94 2091.33V2106.56M1268.44 2091.33h13M1268.44 2106.56h13M1297.73 2077.05V2101.8M1291.23 2077.05h13M1291.23 2101.8h13M1320.53 2071.34V2094.18M1314.03 2071.34h13M1314.03 2094.18h13M1343.32 2087.52V2104.65M1336.82 2087.52h13M1336.82 2104.65h13M1366.12 2098.18V2119.5M1359.62 2098.18h13M1359.62 2119.5h13M1388.91 2096.09V2117.02M1382.41 2096.09h13M1382.41 2117.02h13M1411.71 2105.6V2124.64M1405.21 2105.6h13M1405.21 2124.64h13M1434.51 2139.86V2155.09M1428.01 2139.86h13M1428.01 2155.09h13M1457.3 2191.25V2207.62M1450.8 2191.25h13M1450.8 2207.62h13" stroke="#231f20" stroke-width="1.4" fill="none"/>
<path d="M933 2099.32V2144.24M926.5 2099.32h13M926.5 2144.24h13M955.79 2103.32V2145.95M949.29 2103.32h13M949.29 2145.95h13M978.59 2098.94V2117.97M972.09 2098.94h13M972.09 2117.97h13M1001.39 2095.14V2127.49M994.89 2095.14h13M994.89 2127.49h13M1024.18 2080.86V2107.51M1017.68 2080.86h13M1017.68 2107.51h13M1046.98 2078.39V2118.74M1040.48 2078.39h13M1040.48 2118.74h13M1069.77 2092.66V2152.81M1063.27 2092.66h13M1063.27 2152.81h13M1092.57 2136.44V2181.36M1086.07 2136.44h13M1086.07 2181.36h13M1115.36 2148.43V2203.62M1108.86 2148.43h13M1108.86 2203.62h13M1138.16 2162.7V2200.77M1131.66 2162.7h13M1131.66 2200.77h13M1160.96 2149.38V2229.32M1154.46 2149.38h13M1154.46 2229.32h13M1183.75 2175.65V2246.83M1177.25 2175.65h13M1177.25 2246.83h13M1206.55 2176.98V2245.5M1200.05 2176.98h13M1200.05 2245.5h13M1229.34 2145.57V2202.67M1222.84 2145.57h13M1222.84 2202.67h13M1252.14 2098.94V2152.23M1245.64 2098.94h13M1245.64 2152.23h13M1274.94 2059.92V2120.83M1268.44 2059.92h13M1268.44 2120.83h13M1297.73 2051.36V2085.62M1291.23 2051.36h13M1291.23 2085.62h13M1320.53 2043.94V2068.3M1314.03 2043.94h13M1314.03 2068.3h13M1343.32 2026.62V2039.94M1336.82 2026.62h13M1336.82 2039.94h13M1366.12 2035.18V2061.83M1359.62 2035.18h13M1359.62 2061.83h13M1388.91 2033.28V2056.12M1382.41 2033.28h13M1382.41 2056.12h13M1411.71 2057.07V2078.01M1405.21 2057.07h13M1405.21 2078.01h13M1434.51 2081.81V2112.26M1428.01 2081.81h13M1428.01 2112.26h13M1457.3 2097.99V2141.77M1450.8 2097.99h13M1450.8 2141.77h13" stroke="#231f20" stroke-width="1.4" fill="none"/>
<path d="M933 2086.57V2148.62M926.5 2086.57h13M926.5 2148.62h13M955.79 2091.71V2148.05M949.29 2091.71h13M949.29 2148.05h13M978.59 2089.04V2141.2M972.09 2089.04h13M972.09 2141.2h13M1001.39 2081.43V2123.3M994.89 2081.43h13M994.89 2123.3h13M1024.18 2081.24V2128.82M1017.68 2081.24h13M1017.68 2128.82h13M1046.98 2085.62V2132.06M1040.48 2085.62h13M1040.48 2132.06h13M1069.77 2084.67V2141.77M1063.27 2084.67h13M1063.27 2141.77h13M1092.57 2111.31V2166.51M1086.07 2111.31h13M1086.07 2166.51h13M1115.36 2112.26V2184.59M1108.86 2112.26h13M1108.86 2184.59h13M1138.16 2112.26V2188.4M1131.66 2112.26h13M1131.66 2188.4h13M1160.96 2123.68V2207.43M1154.46 2123.68h13M1154.46 2207.43h13M1183.75 2148.43V2216.95M1177.25 2148.43h13M1177.25 2216.95h13M1206.55 2174.12V2212.19M1200.05 2174.12h13M1200.05 2212.19h13M1229.34 2142.72V2218.85M1222.84 2142.72h13M1222.84 2218.85h13M1252.14 2117.97V2186.49M1245.64 2117.97h13M1245.64 2186.49h13M1274.94 2120.83V2166.51M1268.44 2120.83h13M1268.44 2166.51h13M1297.73 2095.14V2138.91M1291.23 2095.14h13M1291.23 2138.91h13M1320.53 2078.96V2115.12M1314.03 2078.96h13M1314.03 2115.12h13M1343.32 2064.68V2089.43M1336.82 2064.68h13M1336.82 2089.43h13M1366.12 2063.35V2094.56M1359.62 2063.35h13M1359.62 2094.56h13M1388.91 2055.17V2098.94M1382.41 2055.17h13M1382.41 2098.94h13M1411.71 2044.7V2084.67M1405.21 2044.7h13M1405.21 2084.67h13M1434.51 2059.92V2115.12M1428.01 2059.92h13M1428.01 2115.12h13M1457.3 2077.05V2141.77M1450.8 2077.05h13M1450.8 2141.77h13" stroke="#231f20" stroke-width="1.4" fill="none"/>
<path d="M931 2287.37L953.79 2239.79L976.59 2159.85L999.39 2078.96L1022.18 2011.77L1044.98 1985.69L1067.77 1983.79L1090.57 2009.87L1113.36 2094.18L1136.16 2212.19L1158.96 2287.37L1181.75 2302.6L1204.55 2246.45L1227.34 2147.48L1250.14 2041.84L1272.94 1999.02L1295.73 2011.39L1318.53 2014.24L1341.32 2029.47L1364.12 2031.95L1386.91 2041.84L1409.71 2070.39L1432.51 2097.04L1455.3 2179.83" stroke="#231f20" stroke-width="2.0" fill="none" stroke-linejoin="round"/>
<circle cx="931" cy="2287.37" r="5" fill="#231f20"/>
<circle cx="953.79" cy="2239.79" r="5" fill="#231f20"/>
<circle cx="976.59" cy="2159.85" r="5" fill="#231f20"/>
<circle cx="999.39" cy="2078.96" r="5" fill="#231f20"/>
<circle cx="1022.18" cy="2011.77" r="5" fill="#231f20"/>
<circle cx="1044.98" cy="1985.69" r="5" fill="#231f20"/>
<circle cx="1067.77" cy="1983.79" r="5" fill="#231f20"/>
<circle cx="1090.57" cy="2009.87" r="5" fill="#231f20"/>
<circle cx="1113.36" cy="2094.18" r="5" fill="#231f20"/>
<circle cx="1136.16" cy="2212.19" r="5" fill="#231f20"/>
<circle cx="1158.96" cy="2287.37" r="5" fill="#231f20"/>
<circle cx="1181.75" cy="2302.6" r="5" fill="#231f20"/>
<circle cx="1204.55" cy="2246.45" r="5" fill="#231f20"/>
<circle cx="1227.34" cy="2147.48" r="5" fill="#231f20"/>
<circle cx="1250.14" cy="2041.84" r="5" fill="#231f20"/>
<circle cx="1272.94" cy="1999.02" r="5" fill="#231f20"/>
<circle cx="1295.73" cy="2011.39" r="5" fill="#231f20"/>
<circle cx="1318.53" cy="2014.24" r="5" fill="#231f20"/>
<circle cx="1341.32" cy="2029.47" r="5" fill="#231f20"/>
<circle cx="1364.12" cy="2031.95" r="5" fill="#231f20"/>
<circle cx="1386.91" cy="2041.84" r="5" fill="#231f20"/>
<circle cx="1409.71" cy="2070.39" r="5" fill="#231f20"/>
<circle cx="1432.51" cy="2097.04" r="5" fill="#231f20"/>
<circle cx="1455.3" cy="2179.83" r="5" fill="#231f20"/>
<path d="M931 2265.48L953.79 2192.58L976.59 2157.94L999.39 2113.22L1022.18 2072.3L1044.98 2046.6L1067.77 2052.88L1090.57 2061.83L1113.36 2104.65L1136.16 2138.91L1158.96 2201.72L1181.75 2285.47L1204.55 2304.88L1227.34 2235.98L1250.14 2127.49L1272.94 2098.94L1295.73 2089.43L1318.53 2082.76L1341.32 2096.09L1364.12 2108.84L1386.91 2106.56L1409.71 2115.12L1432.51 2147.48L1455.3 2199.44" stroke="#e8232b" stroke-width="2.0" fill="none" stroke-linejoin="round"/>
<circle cx="931" cy="2265.48" r="5" fill="#e8232b"/>
<circle cx="953.79" cy="2192.58" r="5" fill="#e8232b"/>
<circle cx="976.59" cy="2157.94" r="5" fill="#e8232b"/>
<circle cx="999.39" cy="2113.22" r="5" fill="#e8232b"/>
<circle cx="1022.18" cy="2072.3" r="5" fill="#e8232b"/>
<circle cx="1044.98" cy="2046.6" r="5" fill="#e8232b"/>
<circle cx="1067.77" cy="2052.88" r="5" fill="#e8232b"/>
<circle cx="1090.57" cy="2061.83" r="5" fill="#e8232b"/>
<circle cx="1113.36" cy="2104.65" r="5" fill="#e8232b"/>
<circle cx="1136.16" cy="2138.91" r="5" fill="#e8232b"/>
<circle cx="1158.96" cy="2201.72" r="5" fill="#e8232b"/>
<circle cx="1181.75" cy="2285.47" r="5" fill="#e8232b"/>
<circle cx="1204.55" cy="2304.88" r="5" fill="#e8232b"/>
<circle cx="1227.34" cy="2235.98" r="5" fill="#e8232b"/>
<circle cx="1250.14" cy="2127.49" r="5" fill="#e8232b"/>
<circle cx="1272.94" cy="2098.94" r="5" fill="#e8232b"/>
<circle cx="1295.73" cy="2089.43" r="5" fill="#e8232b"/>
<circle cx="1318.53" cy="2082.76" r="5" fill="#e8232b"/>
<circle cx="1341.32" cy="2096.09" r="5" fill="#e8232b"/>
<circle cx="1364.12" cy="2108.84" r="5" fill="#e8232b"/>
<circle cx="1386.91" cy="2106.56" r="5" fill="#e8232b"/>
<circle cx="1409.71" cy="2115.12" r="5" fill="#e8232b"/>
<circle cx="1432.51" cy="2147.48" r="5" fill="#e8232b"/>
<circle cx="1455.3" cy="2199.44" r="5" fill="#e8232b"/>
<path d="M933 2121.78L955.79 2124.64L978.59 2108.46L1001.39 2111.31L1024.18 2094.18L1046.98 2098.56L1069.77 2122.73L1092.57 2158.9L1115.36 2176.03L1138.16 2181.74L1160.96 2189.35L1183.75 2211.24L1206.55 2211.24L1229.34 2174.12L1252.14 2125.59L1274.94 2090.38L1297.73 2068.49L1320.53 2056.12L1343.32 2033.28L1366.12 2048.5L1388.91 2044.7L1411.71 2067.54L1434.51 2097.04L1457.3 2119.88" stroke="#231f20" stroke-width="2.0" fill="none" stroke-linejoin="round"/>
<path d="M933 2116.68L938.1 2126.58H927.9Z" fill="#231f20"/>
<path d="M955.79 2119.54L960.89 2129.44H950.69Z" fill="#231f20"/>
<path d="M978.59 2103.36L983.69 2113.26H973.49Z" fill="#231f20"/>
<path d="M1001.39 2106.21L1006.49 2116.11H996.29Z" fill="#231f20"/>
<path d="M1024.18 2089.08L1029.28 2098.98H1019.08Z" fill="#231f20"/>
<path d="M1046.98 2093.46L1052.08 2103.36H1041.88Z" fill="#231f20"/>
<path d="M1069.77 2117.63L1074.87 2127.53H1064.67Z" fill="#231f20"/>
<path d="M1092.57 2153.8L1097.67 2163.7H1087.47Z" fill="#231f20"/>
<path d="M1115.36 2170.93L1120.46 2180.83H1110.26Z" fill="#231f20"/>
<path d="M1138.16 2176.64L1143.26 2186.54H1133.06Z" fill="#231f20"/>
<path d="M1160.96 2184.25L1166.06 2194.15H1155.86Z" fill="#231f20"/>
<path d="M1183.75 2206.14L1188.85 2216.04H1178.65Z" fill="#231f20"/>
<path d="M1206.55 2206.14L1211.65 2216.04H1201.45Z" fill="#231f20"/>
<path d="M1229.34 2169.02L1234.44 2178.92H1224.24Z" fill="#231f20"/>
<path d="M1252.14 2120.49L1257.24 2130.39H1247.04Z" fill="#231f20"/>
<path d="M1274.94 2085.28L1280.04 2095.18H1269.84Z" fill="#231f20"/>
<path d="M1297.73 2063.39L1302.83 2073.29H1292.63Z" fill="#231f20"/>
<path d="M1320.53 2051.02L1325.63 2060.92H1315.43Z" fill="#231f20"/>
<path d="M1343.32 2028.18L1348.42 2038.08H1338.22Z" fill="#231f20"/>
<path d="M1366.12 2043.4L1371.22 2053.3H1361.02Z" fill="#231f20"/>
<path d="M1388.91 2039.6L1394.01 2049.5H1383.81Z" fill="#231f20"/>
<path d="M1411.71 2062.44L1416.81 2072.34H1406.61Z" fill="#231f20"/>
<path d="M1434.51 2091.94L1439.61 2101.84H1429.41Z" fill="#231f20"/>
<path d="M1457.3 2114.78L1462.4 2124.68H1452.2Z" fill="#231f20"/>
<path d="M933 2117.59L955.79 2119.88L978.59 2115.12L1001.39 2102.37L1024.18 2105.03L1046.98 2108.84L1069.77 2113.22L1092.57 2138.91L1115.36 2148.43L1138.16 2150.33L1160.96 2165.56L1183.75 2182.69L1206.55 2193.16L1229.34 2180.78L1252.14 2152.23L1274.94 2143.67L1297.73 2117.02L1320.53 2097.04L1343.32 2077.05L1366.12 2078.96L1388.91 2077.05L1411.71 2064.68L1434.51 2087.52L1457.3 2109.41" stroke="#e8232b" stroke-width="2.0" fill="none" stroke-linejoin="round"/>
<path d="M933 2112.49L938.1 2122.39H927.9Z" fill="#e8232b"/>
<path d="M955.79 2114.78L960.89 2124.68H950.69Z" fill="#e8232b"/>
<path d="M978.59 2110.02L983.69 2119.92H973.49Z" fill="#e8232b"/>
<path d="M1001.39 2097.27L1006.49 2107.17H996.29Z" fill="#e8232b"/>
<path d="M1024.18 2099.93L1029.28 2109.83H1019.08Z" fill="#e8232b"/>
<path d="M1046.98 2103.74L1052.08 2113.64H1041.88Z" fill="#e8232b"/>
<path d="M1069.77 2108.12L1074.87 2118.02H1064.67Z" fill="#e8232b"/>
<path d="M1092.57 2133.81L1097.67 2143.71H1087.47Z" fill="#e8232b"/>
<path d="M1115.36 2143.33L1120.46 2153.23H1110.26Z" fill="#e8232b"/>
<path d="M1138.16 2145.23L1143.26 2155.13H1133.06Z" fill="#e8232b"/>
<path d="M1160.96 2160.46L1166.06 2170.36H1155.86Z" fill="#e8232b"/>
<path d="M1183.75 2177.59L1188.85 2187.49H1178.65Z" fill="#e8232b"/>
<path d="M1206.55 2188.06L1211.65 2197.96H1201.45Z" fill="#e8232b"/>
<path d="M1229.34 2175.68L1234.44 2185.58H1224.24Z" fill="#e8232b"/>
<path d="M1252.14 2147.13L1257.24 2157.03H1247.04Z" fill="#e8232b"/>
<path d="M1274.94 2138.57L1280.04 2148.47H1269.84Z" fill="#e8232b"/>
<path d="M1297.73 2111.92L1302.83 2121.82H1292.63Z" fill="#e8232b"/>
<path d="M1320.53 2091.94L1325.63 2101.84H1315.43Z" fill="#e8232b"/>
<path d="M1343.32 2071.95L1348.42 2081.85H1338.22Z" fill="#e8232b"/>
<path d="M1366.12 2073.86L1371.22 2083.76H1361.02Z" fill="#e8232b"/>
<path d="M1388.91 2071.95L1394.01 2081.85H1383.81Z" fill="#e8232b"/>
<path d="M1411.71 2059.58L1416.81 2069.48H1406.61Z" fill="#e8232b"/>
<path d="M1434.51 2082.42L1439.61 2092.32H1429.41Z" fill="#e8232b"/>
<path d="M1457.3 2104.31L1462.4 2114.21H1452.2Z" fill="#e8232b"/>
<path d="M1112.6 1844.4h57" stroke="#231f20" stroke-width="1.9"/>
<circle cx="1140.6" cy="1843.4" r="4.9" fill="#231f20"/>
<text x="1177.1" y="1852.6" class="lg">LD-Control</text>
<path d="M1112.6 1893.7h57" stroke="#231f20" stroke-width="1.9"/>
<path d="M1141.6 1889.1L1146.5 1898.9H1136.7Z" fill="#231f20"/>
<text x="1177.1" y="1901.9" class="lg">DD-Control</text>
<path d="M1306.7 1844.4h57" stroke="#e8232b" stroke-width="1.9"/>
<circle cx="1334.7" cy="1843.4" r="4.9" fill="#e8232b"/>
<text x="1371.2" y="1852.6" class="lg">LD-SM</text>
<path d="M1306.7 1893.7h57" stroke="#e8232b" stroke-width="1.9"/>
<path d="M1335.7 1889.1L1340.6 1898.9H1330.8Z" fill="#e8232b"/>
<text x="1371.2" y="1901.9" class="lg">DD-SM</text>
</g>
</svg></body></html>
